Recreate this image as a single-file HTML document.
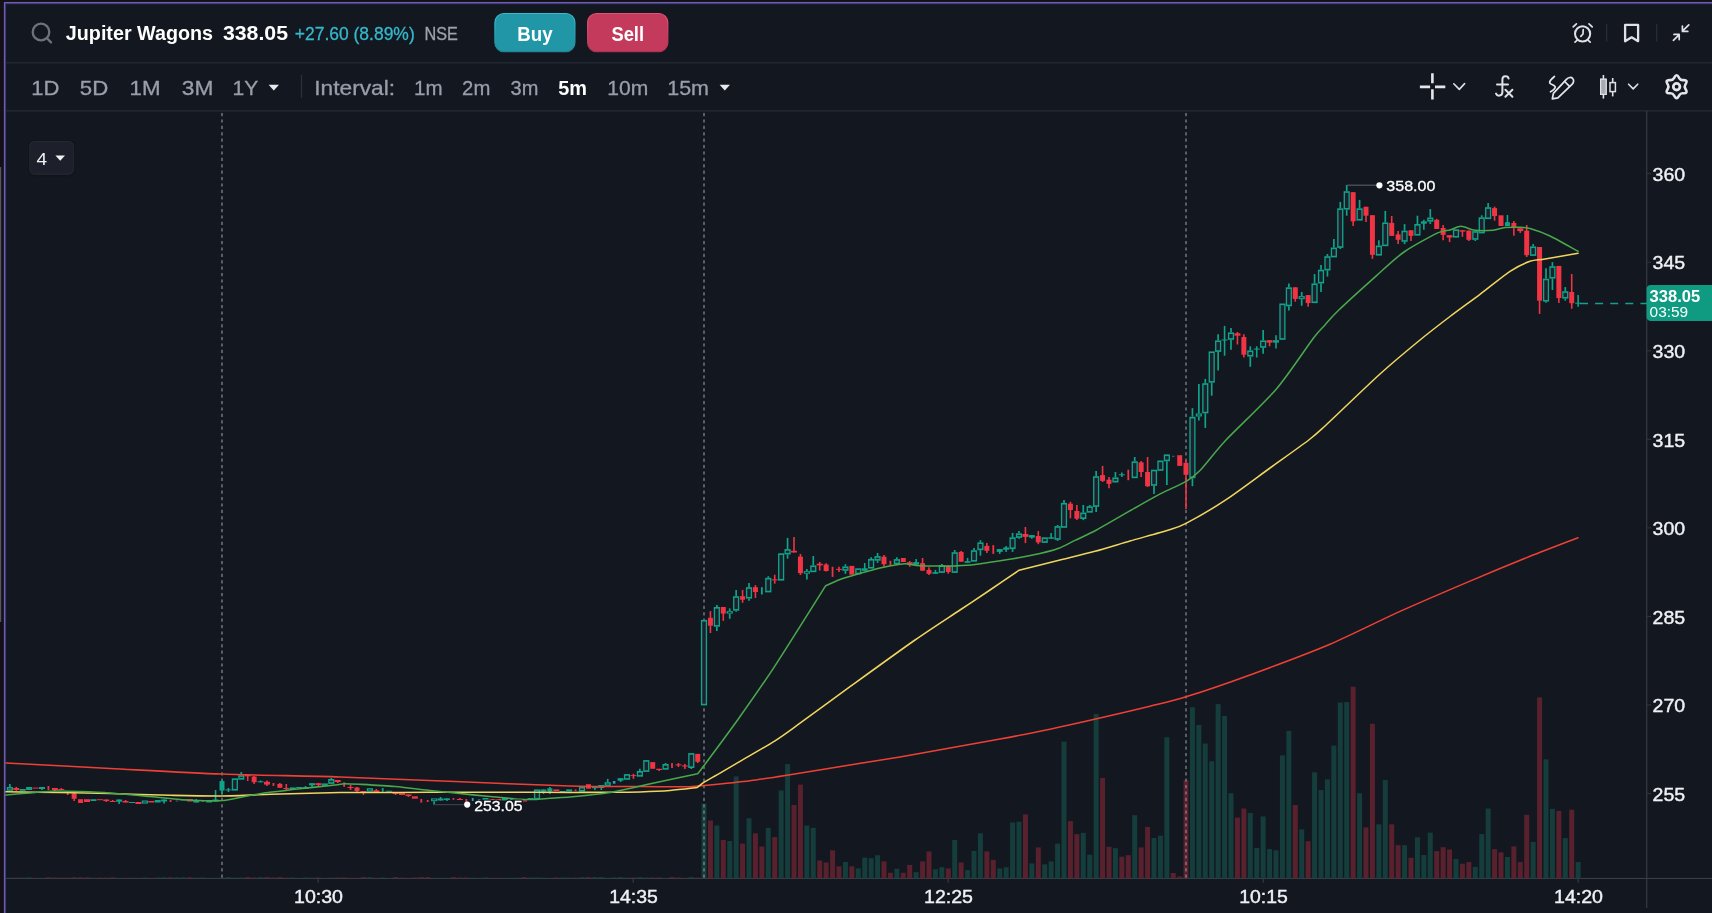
<!DOCTYPE html>
<html><head><meta charset="utf-8"><title>Jupiter Wagons</title>
<style>
html,body{margin:0;padding:0;background:#151014;}
body{width:1712px;height:913px;overflow:hidden;position:relative;font-family:"Liberation Sans",sans-serif;}
svg{position:absolute;left:0;top:0;will-change:transform;}
text{font-family:"Liberation Sans",sans-serif;}
</style></head>
<body>
<svg width="1712" height="913" viewBox="0 0 1712 913">
<!-- frame -->
<rect x="0" y="0" width="1712" height="913" fill="#151014"/>
<rect x="3" y="1.2" width="1709" height="912" fill="#0d0a09"/>
<rect x="0" y="167" width="1.2" height="455" fill="#55565a"/>
<rect x="3.8" y="1.9" width="1708.2" height="911.1" fill="#6a5ebc"/>
<rect x="5.1" y="3.2" width="1706.9" height="909.8" fill="#3a3668"/>
<rect x="6.1" y="4.2" width="1705.9" height="908.8" fill="#131720"/>
<!-- header separators -->
<rect x="6" y="61.9" width="1706" height="1.6" fill="#232730"/>
<rect x="6" y="110" width="1706" height="1.6" fill="#232730"/>

<!-- search icon -->
<circle cx="41" cy="32" r="8.3" fill="none" stroke="#6e727b" stroke-width="2.3"/>
<line x1="47" y1="38.2" x2="51" y2="42.4" stroke="#6e727b" stroke-width="2.3" stroke-linecap="round"/>

<!-- header text -->
<text x="65.8" y="40.3" font-size="19.6" font-weight="700" fill="#ffffff" textLength="147.3" lengthAdjust="spacingAndGlyphs">Jupiter Wagons</text>
<text x="222.9" y="40.3" font-size="19.6" font-weight="700" fill="#ffffff" textLength="65.1" lengthAdjust="spacingAndGlyphs">338.05</text>
<text x="294.8" y="40.4" font-size="18.2" fill="#36b8cc" stroke="#36b8cc" stroke-width="0.3" textLength="119.9" lengthAdjust="spacingAndGlyphs">+27.60 (8.89%)</text>
<text x="424.5" y="40.4" font-size="17.8" fill="#9ea2ac" stroke="#9ea2ac" stroke-width="0.3" textLength="33.4" lengthAdjust="spacingAndGlyphs">NSE</text>

<!-- buttons -->
<defs><linearGradient id="gb" x1="0" y1="0" x2="0" y2="1"><stop offset="0" stop-color="#34bdd2"/><stop offset="0.5" stop-color="#2ba5b8"/><stop offset="1" stop-color="#1f8797"/></linearGradient><linearGradient id="gs" x1="0" y1="0" x2="0" y2="1"><stop offset="0" stop-color="#e35177"/><stop offset="0.5" stop-color="#cf4567"/><stop offset="1" stop-color="#ad3150"/></linearGradient></defs>
<rect x="494.9" y="13.5" width="80" height="38.2" rx="9" fill="#2196a6" stroke="url(#gb)" stroke-width="1.2"/>
<text x="517.2" y="40.6" font-size="20.2" font-weight="700" fill="#ffffff" textLength="35.4" lengthAdjust="spacingAndGlyphs">Buy</text>
<rect x="587.6" y="13.5" width="80.2" height="38.2" rx="9" fill="#c43a5c" stroke="url(#gs)" stroke-width="1.2"/>
<text x="611.4" y="40.6" font-size="20.2" font-weight="700" fill="#ffffff" textLength="32.7" lengthAdjust="spacingAndGlyphs">Sell</text>

<!-- range row -->
<g font-size="20.4" fill="#9a9ea9" stroke="#9a9ea9" stroke-width="0.3">
<text x="31.2" y="95.3" textLength="28.2" lengthAdjust="spacingAndGlyphs">1D</text>
<text x="79.8" y="95.3" textLength="28.4" lengthAdjust="spacingAndGlyphs">5D</text>
<text x="129.6" y="95.3" textLength="31" lengthAdjust="spacingAndGlyphs">1M</text>
<text x="181.8" y="95.3" textLength="31.6" lengthAdjust="spacingAndGlyphs">3M</text>
<text x="232.6" y="95.3" textLength="25.8" lengthAdjust="spacingAndGlyphs">1Y</text>
<text x="314.2" y="95.3" textLength="81" lengthAdjust="spacingAndGlyphs">Interval:</text>
<text x="414" y="95.3" textLength="28.6" lengthAdjust="spacingAndGlyphs">1m</text>
<text x="462.1" y="95.3" textLength="28.2" lengthAdjust="spacingAndGlyphs">2m</text>
<text x="510.5" y="95.3" textLength="27.8" lengthAdjust="spacingAndGlyphs">3m</text>
<text x="558.3" y="95.3" textLength="28.8" lengthAdjust="spacingAndGlyphs" font-weight="700" fill="#ffffff" stroke="none">5m</text>
<text x="607.2" y="95.3" textLength="41" lengthAdjust="spacingAndGlyphs">10m</text>
<text x="667.2" y="95.3" textLength="41.8" lengthAdjust="spacingAndGlyphs">15m</text>
</g>
<path d="M268.6 84.8 L279 84.8 L273.8 90.4 Z" fill="#e8e9ec"/>
<path d="M719.6 84.8 L730 84.8 L724.8 90.4 Z" fill="#e8e9ec"/>
<rect x="300.9" y="75" width="1.2" height="23" fill="#2c303a"/>

<!-- top right icons -->
<g fill="none" stroke="#dfe1e6" stroke-width="1.7" stroke-linecap="round" stroke-linejoin="round">
  <!-- alarm -->
  <circle cx="1582.6" cy="33.8" r="7.6" stroke-width="2"/>
  <path d="M1583.2 29.6 L1583 34 L1580.8 36.4"/>
  <path d="M1573.2 26.8 L1576.4 23.8 M1592.2 26.8 L1589 23.8 M1577 40.4 L1575 42.2 M1588.2 40.4 L1590.2 42.2"/>
  <!-- bookmark -->
  <path d="M1625.1 24.9 L1638.1 24.9 L1638.1 41.2 L1631.6 37.3 L1625.1 41.2 Z" stroke-width="2.3"/>
  <!-- collapse -->
  <path d="M1688.8 24.8 L1682.4 31.2 M1682.4 26 L1682.4 31.4 L1687.8 31.4"/>
  <path d="M1673.4 40.4 L1679.2 34.6 M1679.2 39.6 L1679.2 34.4 L1674 34.4"/>
</g>
<rect x="1606" y="24" width="1.3" height="17.5" fill="#272b35"/>
<rect x="1656" y="24" width="1.3" height="17.5" fill="#272b35"/>

<!-- second row icons -->
<g fill="none" stroke="#e4e6ec" stroke-width="2.6">
  <!-- crosshair -->
  <path d="M1432.4 73.2 V83.3 M1432.4 89.2 V99.5 M1419.9 86.9 H1430.1 M1435 86.9 H1445.3"/>
</g>
<g fill="none" stroke="#dfe1e6" stroke-width="1.6" stroke-linecap="round" stroke-linejoin="round">
  <path d="M1453.8 83.8 L1459.3 89.4 L1464.6 83.6"/>
  <path d="M1628.6 84.2 L1633.2 88.9 L1637.7 84.2"/>
</g>
<!-- fx -->
<g fill="none" stroke="#dfe1e6" stroke-width="2" stroke-linecap="round" stroke-linejoin="round">
  <path d="M1508.6 78.6 C1508 75.6 1502.4 75.2 1502.4 79.6 L1502.4 92 C1502.4 96.4 1497.2 96.6 1496 93.6"/>
  <path d="M1497 84.4 H1508"/>
  <path d="M1505.4 89.8 L1512.4 96.8 M1512.4 89.8 L1505.4 96.8"/>
</g>
<!-- pencil -->
<g fill="none" stroke="#e4e6ec" stroke-width="1.7" stroke-linecap="round" stroke-linejoin="round">
  <path d="M1554.4 76.5 C1551 79.4 1548.4 82 1550.4 83.7 C1552 85 1555.6 85.4 1555.2 87.4 C1554.8 89.2 1552.6 90.6 1550.5 91.8"/>
  <path d="M1552.3 98.8 L1553.4 93.3 L1566.4 79.4 C1568.4 77.2 1571.2 76.9 1572.6 78.4 C1574.2 80 1573.8 82.6 1572 84.4 L1557.9 97.9 Z"/>
  <path d="M1564.7 81.5 L1569.5 86.3"/>
</g>
<!-- candles icon -->
<g>
  <rect x="1602.6" y="75" width="1.6" height="23.6" fill="#dfe1e6"/>
  <rect x="1600" y="78.6" width="6.8" height="16.4" fill="#a9abb2"/>
  <rect x="1600.6" y="79.2" width="5.6" height="15.2" fill="none" stroke="#dfe1e6" stroke-width="1.2"/>
  <rect x="1611.9" y="78" width="1.6" height="18.4" fill="#dfe1e6"/>
  <rect x="1610" y="82.6" width="5.4" height="9" fill="#131720" stroke="#dfe1e6" stroke-width="1.5"/>
</g>
<!-- gear -->
<g fill="none" stroke="#e4e6ec" stroke-width="2.6" stroke-linejoin="round">
  <path d="M1678.8 77.34 Q1676.6 73.3 1674.4 77.34 L1674 78.1 Q1672.85 80.2 1670.45 80.14 L1669.59 80.12 Q1665 80 1667.4 83.92 L1667.85 84.65 Q1669.1 86.7 1667.85 88.75 L1667.4 89.48 Q1665 93.4 1669.59 93.28 L1670.45 93.26 Q1672.85 93.2 1674 95.3 L1674.4 96.06 Q1676.6 100.1 1678.8 96.06 L1679.2 95.3 Q1680.35 93.2 1682.75 93.26 L1683.61 93.28 Q1688.2 93.4 1685.8 89.48 L1685.35 88.75 Q1684.1 86.7 1685.35 84.65 L1685.8 83.92 Q1688.2 80 1683.61 80.12 L1682.75 80.14 Q1680.35 80.2 1679.2 78.1 Z"/>
  <circle cx="1676.6" cy="86.7" r="3.3" stroke-width="2.8"/>
</g>

<!-- "4" dropdown -->
<rect x="28.4" y="140.6" width="46.4" height="35.6" rx="6" fill="#0f1219" opacity="0.6"/>
<rect x="29.8" y="141.6" width="43.6" height="32.6" rx="4.5" fill="#1d202a" stroke="#262a35" stroke-width="1"/>
<text x="36.6" y="165.2" font-size="17" fill="#f0f1f4" textLength="10.6" lengthAdjust="spacingAndGlyphs">4</text>
<path d="M55.4 155.6 L65 155.6 L60.2 160.8 Z" fill="#f0f1f4"/>

<!-- axes -->
<rect x="1646.2" y="111" width="1.1" height="797" fill="#3a3e49"/>
<rect x="6" y="877.9" width="1706" height="1.1" fill="#3a3e49"/>

<!-- chart -->
<g shape-rendering="auto">
<rect x="701.5" y="803.6" width="5" height="74.7" fill="#143d3b"/>
<rect x="707.93" y="820.5" width="5" height="57.8" fill="#59212d"/>
<rect x="714.36" y="825.5" width="5" height="52.8" fill="#143d3b"/>
<rect x="720.79" y="840" width="5" height="38.3" fill="#59212d"/>
<rect x="727.21" y="841" width="5" height="37.3" fill="#143d3b"/>
<rect x="733.64" y="776.4" width="5" height="101.9" fill="#143d3b"/>
<rect x="740.07" y="843.6" width="5" height="34.7" fill="#59212d"/>
<rect x="746.5" y="818.2" width="5" height="60.1" fill="#143d3b"/>
<rect x="752.93" y="833.3" width="5" height="45" fill="#59212d"/>
<rect x="759.36" y="846.5" width="5" height="31.8" fill="#59212d"/>
<rect x="765.79" y="827.8" width="5" height="50.5" fill="#143d3b"/>
<rect x="772.21" y="837.1" width="5" height="41.2" fill="#59212d"/>
<rect x="778.64" y="790.4" width="5" height="87.9" fill="#143d3b"/>
<rect x="785.07" y="764.1" width="5" height="114.2" fill="#143d3b"/>
<rect x="791.5" y="805" width="5" height="73.3" fill="#59212d"/>
<rect x="797.93" y="784.6" width="5" height="93.7" fill="#59212d"/>
<rect x="804.36" y="825.5" width="5" height="52.8" fill="#143d3b"/>
<rect x="810.79" y="827.8" width="5" height="50.5" fill="#143d3b"/>
<rect x="817.21" y="860.5" width="5" height="17.8" fill="#59212d"/>
<rect x="823.64" y="862.5" width="5" height="15.8" fill="#59212d"/>
<rect x="830.07" y="850.3" width="5" height="28" fill="#59212d"/>
<rect x="836.5" y="866.3" width="5" height="12" fill="#59212d"/>
<rect x="842.93" y="862" width="5" height="16.3" fill="#143d3b"/>
<rect x="849.36" y="866.3" width="5" height="12" fill="#59212d"/>
<rect x="855.79" y="868.4" width="5" height="9.9" fill="#143d3b"/>
<rect x="862.21" y="857.6" width="5" height="20.7" fill="#143d3b"/>
<rect x="868.64" y="858.2" width="5" height="20.1" fill="#143d3b"/>
<rect x="875.07" y="855.2" width="5" height="23.1" fill="#143d3b"/>
<rect x="881.5" y="861.4" width="5" height="16.9" fill="#59212d"/>
<rect x="887.93" y="872.8" width="5" height="5.5" fill="#59212d"/>
<rect x="894.36" y="868.7" width="5" height="9.6" fill="#143d3b"/>
<rect x="900.79" y="872.8" width="5" height="5.5" fill="#59212d"/>
<rect x="907.21" y="864.9" width="5" height="13.4" fill="#59212d"/>
<rect x="913.64" y="872.2" width="5" height="6.1" fill="#143d3b"/>
<rect x="920.07" y="861.4" width="5" height="16.9" fill="#59212d"/>
<rect x="926.5" y="851.4" width="5" height="26.9" fill="#59212d"/>
<rect x="932.93" y="869.3" width="5" height="9" fill="#143d3b"/>
<rect x="939.36" y="867.2" width="5" height="11.1" fill="#143d3b"/>
<rect x="945.79" y="868.4" width="5" height="9.9" fill="#59212d"/>
<rect x="952.21" y="840" width="5" height="38.3" fill="#143d3b"/>
<rect x="958.64" y="862.5" width="5" height="15.8" fill="#59212d"/>
<rect x="965.07" y="870.1" width="5" height="8.2" fill="#143d3b"/>
<rect x="971.5" y="850.9" width="5" height="27.4" fill="#143d3b"/>
<rect x="977.93" y="833.3" width="5" height="45" fill="#143d3b"/>
<rect x="984.36" y="851.4" width="5" height="26.9" fill="#59212d"/>
<rect x="990.79" y="859.9" width="5" height="18.4" fill="#59212d"/>
<rect x="997.21" y="868.4" width="5" height="9.9" fill="#143d3b"/>
<rect x="1003.64" y="867.2" width="5" height="11.1" fill="#143d3b"/>
<rect x="1010.07" y="822.5" width="5" height="55.8" fill="#143d3b"/>
<rect x="1016.5" y="821.7" width="5" height="56.6" fill="#143d3b"/>
<rect x="1022.93" y="814.4" width="5" height="63.9" fill="#59212d"/>
<rect x="1029.36" y="863.4" width="5" height="14.9" fill="#143d3b"/>
<rect x="1035.79" y="847.4" width="5" height="30.9" fill="#59212d"/>
<rect x="1042.21" y="864.3" width="5" height="14" fill="#143d3b"/>
<rect x="1048.64" y="861.4" width="5" height="16.9" fill="#143d3b"/>
<rect x="1055.07" y="843.6" width="5" height="34.7" fill="#143d3b"/>
<rect x="1061.5" y="741.6" width="5" height="136.7" fill="#143d3b"/>
<rect x="1067.93" y="821.1" width="5" height="57.2" fill="#59212d"/>
<rect x="1074.36" y="834.2" width="5" height="44.1" fill="#59212d"/>
<rect x="1080.79" y="832.8" width="5" height="45.5" fill="#143d3b"/>
<rect x="1087.21" y="854.7" width="5" height="23.6" fill="#143d3b"/>
<rect x="1093.64" y="713.9" width="5" height="164.4" fill="#143d3b"/>
<rect x="1100.07" y="777.9" width="5" height="100.4" fill="#59212d"/>
<rect x="1106.5" y="846.8" width="5" height="31.5" fill="#59212d"/>
<rect x="1112.93" y="848.2" width="5" height="30.1" fill="#143d3b"/>
<rect x="1119.36" y="856.7" width="5" height="21.6" fill="#59212d"/>
<rect x="1125.79" y="855.2" width="5" height="23.1" fill="#59212d"/>
<rect x="1132.21" y="815.2" width="5" height="63.1" fill="#143d3b"/>
<rect x="1138.64" y="847.4" width="5" height="30.9" fill="#59212d"/>
<rect x="1145.07" y="826.9" width="5" height="51.4" fill="#59212d"/>
<rect x="1151.5" y="838" width="5" height="40.3" fill="#143d3b"/>
<rect x="1157.93" y="835.7" width="5" height="42.6" fill="#143d3b"/>
<rect x="1164.36" y="737.3" width="5" height="141" fill="#143d3b"/>
<rect x="1170.79" y="873" width="5" height="5.3" fill="#59212d"/>
<rect x="1177.21" y="876.5" width="5" height="1.8" fill="#59212d"/>
<rect x="1183.5" y="780.1" width="5" height="98.2" fill="#59212d"/>
<rect x="1189.93" y="707.2" width="5" height="171.1" fill="#143d3b"/>
<rect x="1196.36" y="725" width="5" height="153.3" fill="#143d3b"/>
<rect x="1202.79" y="743.5" width="5" height="134.8" fill="#143d3b"/>
<rect x="1209.21" y="761.2" width="5" height="117.1" fill="#143d3b"/>
<rect x="1215.64" y="704.1" width="5" height="174.2" fill="#143d3b"/>
<rect x="1222.07" y="715.9" width="5" height="162.4" fill="#143d3b"/>
<rect x="1228.5" y="793.2" width="5" height="85.1" fill="#143d3b"/>
<rect x="1234.93" y="817.6" width="5" height="60.7" fill="#59212d"/>
<rect x="1241.36" y="808.5" width="5" height="69.8" fill="#59212d"/>
<rect x="1247.79" y="812.9" width="5" height="65.4" fill="#143d3b"/>
<rect x="1254.21" y="848" width="5" height="30.3" fill="#143d3b"/>
<rect x="1260.64" y="816.4" width="5" height="61.9" fill="#143d3b"/>
<rect x="1267.07" y="849.1" width="5" height="29.2" fill="#143d3b"/>
<rect x="1273.5" y="850.3" width="5" height="28" fill="#143d3b"/>
<rect x="1279.93" y="755.3" width="5" height="123" fill="#143d3b"/>
<rect x="1286.36" y="730.9" width="5" height="147.4" fill="#143d3b"/>
<rect x="1292.79" y="805" width="5" height="73.3" fill="#59212d"/>
<rect x="1299.21" y="829.4" width="5" height="48.9" fill="#143d3b"/>
<rect x="1305.64" y="841.2" width="5" height="37.1" fill="#59212d"/>
<rect x="1312.07" y="772.3" width="5" height="106" fill="#143d3b"/>
<rect x="1318.5" y="790" width="5" height="88.3" fill="#143d3b"/>
<rect x="1324.93" y="779.4" width="5" height="98.9" fill="#143d3b"/>
<rect x="1331.36" y="745.5" width="5" height="132.8" fill="#143d3b"/>
<rect x="1337.79" y="702.5" width="5" height="175.8" fill="#143d3b"/>
<rect x="1344.21" y="702.1" width="5" height="176.2" fill="#143d3b"/>
<rect x="1350.64" y="686.7" width="5" height="191.6" fill="#59212d"/>
<rect x="1357.07" y="793.2" width="5" height="85.1" fill="#143d3b"/>
<rect x="1363.5" y="827.4" width="5" height="50.9" fill="#59212d"/>
<rect x="1369.93" y="723.8" width="5" height="154.5" fill="#59212d"/>
<rect x="1376.36" y="824.3" width="5" height="54" fill="#143d3b"/>
<rect x="1382.79" y="780.1" width="5" height="98.2" fill="#143d3b"/>
<rect x="1389.21" y="824.3" width="5" height="54" fill="#59212d"/>
<rect x="1395.64" y="845.2" width="5" height="33.1" fill="#59212d"/>
<rect x="1402.07" y="845.2" width="5" height="33.1" fill="#143d3b"/>
<rect x="1408.5" y="857.8" width="5" height="20.5" fill="#59212d"/>
<rect x="1414.93" y="837.3" width="5" height="41" fill="#143d3b"/>
<rect x="1421.36" y="855" width="5" height="23.3" fill="#143d3b"/>
<rect x="1427.79" y="832.6" width="5" height="45.7" fill="#143d3b"/>
<rect x="1434.21" y="851.1" width="5" height="27.2" fill="#59212d"/>
<rect x="1440.64" y="847.2" width="5" height="31.1" fill="#59212d"/>
<rect x="1447.07" y="849.5" width="5" height="28.8" fill="#59212d"/>
<rect x="1453.5" y="859" width="5" height="19.3" fill="#143d3b"/>
<rect x="1459.93" y="863.7" width="5" height="14.6" fill="#59212d"/>
<rect x="1466.36" y="862.1" width="5" height="16.2" fill="#59212d"/>
<rect x="1472.79" y="866.9" width="5" height="11.4" fill="#143d3b"/>
<rect x="1479.21" y="834.1" width="5" height="44.2" fill="#143d3b"/>
<rect x="1485.64" y="808.5" width="5" height="69.8" fill="#143d3b"/>
<rect x="1492.07" y="849.1" width="5" height="29.2" fill="#59212d"/>
<rect x="1498.5" y="852.3" width="5" height="26" fill="#59212d"/>
<rect x="1504.93" y="857" width="5" height="21.3" fill="#143d3b"/>
<rect x="1511.36" y="846.4" width="5" height="31.9" fill="#59212d"/>
<rect x="1517.79" y="862.1" width="5" height="16.2" fill="#59212d"/>
<rect x="1524.21" y="814.8" width="5" height="63.5" fill="#59212d"/>
<rect x="1530.64" y="842" width="5" height="36.3" fill="#143d3b"/>
<rect x="1537.07" y="697.4" width="5" height="180.9" fill="#59212d"/>
<rect x="1543.5" y="759.3" width="5" height="119" fill="#143d3b"/>
<rect x="1549.93" y="808.9" width="5" height="69.4" fill="#143d3b"/>
<rect x="1556.36" y="810.9" width="5" height="67.4" fill="#59212d"/>
<rect x="1562.79" y="838.1" width="5" height="40.2" fill="#143d3b"/>
<rect x="1569.21" y="809.7" width="5" height="68.6" fill="#59212d"/>
<rect x="1575.64" y="862.1" width="5" height="16.2" fill="#143d3b"/>
<rect x="7.36" y="877.7" width="5" height="0.6" fill="#143d3b"/>
<rect x="13.79" y="877.7" width="5" height="0.6" fill="#59212d"/>
<rect x="20.21" y="877.5" width="5" height="0.8" fill="#143d3b"/>
<rect x="26.64" y="877.3" width="5" height="1" fill="#143d3b"/>
<rect x="33.07" y="877.9" width="5" height="0.4" fill="#59212d"/>
<rect x="39.5" y="877.9" width="5" height="0.4" fill="#143d3b"/>
<rect x="45.93" y="877.3" width="5" height="1" fill="#59212d"/>
<rect x="52.36" y="877.5" width="5" height="0.8" fill="#59212d"/>
<rect x="58.79" y="877.7" width="5" height="0.6" fill="#59212d"/>
<rect x="65.21" y="877.7" width="5" height="0.6" fill="#59212d"/>
<rect x="71.64" y="877.3" width="5" height="1" fill="#59212d"/>
<rect x="78.07" y="877.3" width="5" height="1" fill="#59212d"/>
<rect x="84.5" y="877.3" width="5" height="1" fill="#59212d"/>
<rect x="90.93" y="877.7" width="5" height="0.6" fill="#143d3b"/>
<rect x="97.36" y="877.7" width="5" height="0.6" fill="#59212d"/>
<rect x="103.79" y="877.7" width="5" height="0.6" fill="#59212d"/>
<rect x="110.21" y="877.3" width="5" height="1" fill="#59212d"/>
<rect x="116.64" y="877.9" width="5" height="0.4" fill="#143d3b"/>
<rect x="123.07" y="877.9" width="5" height="0.4" fill="#59212d"/>
<rect x="129.5" y="877.7" width="5" height="0.6" fill="#143d3b"/>
<rect x="135.93" y="877.9" width="5" height="0.4" fill="#59212d"/>
<rect x="142.36" y="877.5" width="5" height="0.8" fill="#143d3b"/>
<rect x="148.79" y="877.9" width="5" height="0.4" fill="#59212d"/>
<rect x="155.21" y="877.5" width="5" height="0.8" fill="#143d3b"/>
<rect x="161.64" y="877.3" width="5" height="1" fill="#143d3b"/>
<rect x="168.07" y="877.3" width="5" height="1" fill="#59212d"/>
<rect x="174.5" y="877.3" width="5" height="1" fill="#143d3b"/>
<rect x="180.93" y="877.3" width="5" height="1" fill="#143d3b"/>
<rect x="187.36" y="877.3" width="5" height="1" fill="#59212d"/>
<rect x="193.79" y="877.7" width="5" height="0.6" fill="#143d3b"/>
<rect x="200.21" y="877.5" width="5" height="0.8" fill="#143d3b"/>
<rect x="206.64" y="877.9" width="5" height="0.4" fill="#143d3b"/>
<rect x="213.07" y="877.9" width="5" height="0.4" fill="#143d3b"/>
<rect x="219.5" y="877.7" width="5" height="0.6" fill="#143d3b"/>
<rect x="225.93" y="877.1" width="5" height="1.2" fill="#143d3b"/>
<rect x="232.36" y="877.7" width="5" height="0.6" fill="#143d3b"/>
<rect x="238.79" y="877.5" width="5" height="0.8" fill="#143d3b"/>
<rect x="245.21" y="877.1" width="5" height="1.2" fill="#59212d"/>
<rect x="251.64" y="877.5" width="5" height="0.8" fill="#59212d"/>
<rect x="258.07" y="877.1" width="5" height="1.2" fill="#143d3b"/>
<rect x="264.5" y="877.1" width="5" height="1.2" fill="#59212d"/>
<rect x="270.93" y="877.5" width="5" height="0.8" fill="#59212d"/>
<rect x="277.36" y="877.1" width="5" height="1.2" fill="#59212d"/>
<rect x="283.79" y="877.7" width="5" height="0.6" fill="#59212d"/>
<rect x="290.21" y="877.5" width="5" height="0.8" fill="#143d3b"/>
<rect x="296.64" y="877.9" width="5" height="0.4" fill="#143d3b"/>
<rect x="303.07" y="877.5" width="5" height="0.8" fill="#143d3b"/>
<rect x="309.5" y="877.7" width="5" height="0.6" fill="#143d3b"/>
<rect x="315.93" y="877.5" width="5" height="0.8" fill="#59212d"/>
<rect x="322.36" y="877.9" width="5" height="0.4" fill="#143d3b"/>
<rect x="328.79" y="877.7" width="5" height="0.6" fill="#143d3b"/>
<rect x="335.21" y="877.5" width="5" height="0.8" fill="#59212d"/>
<rect x="341.64" y="877.5" width="5" height="0.8" fill="#59212d"/>
<rect x="348.07" y="877.9" width="5" height="0.4" fill="#59212d"/>
<rect x="354.5" y="877.9" width="5" height="0.4" fill="#59212d"/>
<rect x="360.93" y="877.1" width="5" height="1.2" fill="#59212d"/>
<rect x="367.36" y="877.1" width="5" height="1.2" fill="#143d3b"/>
<rect x="373.79" y="877.9" width="5" height="0.4" fill="#59212d"/>
<rect x="380.21" y="877.5" width="5" height="0.8" fill="#143d3b"/>
<rect x="386.64" y="877.9" width="5" height="0.4" fill="#143d3b"/>
<rect x="393.07" y="877.1" width="5" height="1.2" fill="#59212d"/>
<rect x="399.5" y="877.7" width="5" height="0.6" fill="#59212d"/>
<rect x="405.93" y="877.9" width="5" height="0.4" fill="#59212d"/>
<rect x="412.36" y="877.5" width="5" height="0.8" fill="#59212d"/>
<rect x="418.79" y="877.1" width="5" height="1.2" fill="#59212d"/>
<rect x="425.21" y="877.1" width="5" height="1.2" fill="#59212d"/>
<rect x="431.64" y="877.9" width="5" height="0.4" fill="#143d3b"/>
<rect x="438.07" y="877.9" width="5" height="0.4" fill="#143d3b"/>
<rect x="444.5" y="877.9" width="5" height="0.4" fill="#143d3b"/>
<rect x="450.93" y="877.1" width="5" height="1.2" fill="#59212d"/>
<rect x="457.36" y="877.5" width="5" height="0.8" fill="#59212d"/>
<rect x="463.79" y="877.5" width="5" height="0.8" fill="#59212d"/>
<rect x="470.21" y="877.7" width="5" height="0.6" fill="#143d3b"/>
<rect x="476.64" y="877.9" width="5" height="0.4" fill="#143d3b"/>
<rect x="483.07" y="877.5" width="5" height="0.8" fill="#143d3b"/>
<rect x="489.5" y="877.9" width="5" height="0.4" fill="#59212d"/>
<rect x="495.93" y="877.9" width="5" height="0.4" fill="#59212d"/>
<rect x="502.36" y="877.9" width="5" height="0.4" fill="#143d3b"/>
<rect x="508.79" y="877.9" width="5" height="0.4" fill="#143d3b"/>
<rect x="515.21" y="877.7" width="5" height="0.6" fill="#143d3b"/>
<rect x="521.64" y="877.1" width="5" height="1.2" fill="#59212d"/>
<rect x="528.07" y="877.5" width="5" height="0.8" fill="#143d3b"/>
<rect x="534.5" y="877.5" width="5" height="0.8" fill="#143d3b"/>
<rect x="540.93" y="877.7" width="5" height="0.6" fill="#143d3b"/>
<rect x="547.36" y="877.9" width="5" height="0.4" fill="#143d3b"/>
<rect x="553.79" y="877.5" width="5" height="0.8" fill="#59212d"/>
<rect x="560.21" y="877.5" width="5" height="0.8" fill="#143d3b"/>
<rect x="566.64" y="877.5" width="5" height="0.8" fill="#143d3b"/>
<rect x="573.07" y="877.7" width="5" height="0.6" fill="#59212d"/>
<rect x="579.5" y="877.1" width="5" height="1.2" fill="#143d3b"/>
<rect x="585.93" y="877.1" width="5" height="1.2" fill="#59212d"/>
<rect x="592.36" y="877.1" width="5" height="1.2" fill="#143d3b"/>
<rect x="598.79" y="877.1" width="5" height="1.2" fill="#143d3b"/>
<rect x="605.21" y="877.9" width="5" height="0.4" fill="#143d3b"/>
<rect x="611.64" y="877.5" width="5" height="0.8" fill="#143d3b"/>
<rect x="618.07" y="877.1" width="5" height="1.2" fill="#143d3b"/>
<rect x="624.5" y="877.7" width="5" height="0.6" fill="#143d3b"/>
<rect x="630.93" y="877.5" width="5" height="0.8" fill="#59212d"/>
<rect x="637.36" y="877.1" width="5" height="1.2" fill="#143d3b"/>
<rect x="643.79" y="877.5" width="5" height="0.8" fill="#143d3b"/>
<rect x="650.21" y="877.5" width="5" height="0.8" fill="#59212d"/>
<rect x="656.64" y="877.5" width="5" height="0.8" fill="#59212d"/>
<rect x="663.07" y="877.9" width="5" height="0.4" fill="#143d3b"/>
<rect x="669.5" y="877.1" width="5" height="1.2" fill="#59212d"/>
<rect x="675.93" y="877.5" width="5" height="0.8" fill="#59212d"/>
<rect x="682.36" y="877.9" width="5" height="0.4" fill="#59212d"/>
<rect x="688.79" y="877.1" width="5" height="1.2" fill="#143d3b"/>
<rect x="695.21" y="877.7" width="5" height="0.6" fill="#59212d"/>
</g>
<line x1="222" y1="113" x2="222" y2="878" stroke="#8a8d96" stroke-width="1.2" stroke-dasharray="3.2 3.2"/>
<line x1="704" y1="113" x2="704" y2="878" stroke="#8a8d96" stroke-width="1.2" stroke-dasharray="3.2 3.2"/>
<line x1="1186" y1="113" x2="1186" y2="878" stroke="#8a8d96" stroke-width="1.2" stroke-dasharray="3.2 3.2"/>
<g>
<line x1="9.86" y1="784.1" x2="9.86" y2="787" stroke="#10a389" stroke-width="1.7"/>
<rect x="6.76" y="787" width="6.2" height="3.8" fill="#10a389"/>
<rect x="8.11" y="788.45" width="3.5" height="0.9" fill="#1e202e"/>
<line x1="16.29" y1="786.9" x2="16.29" y2="790.8" stroke="#f03444" stroke-width="1.6"/>
<rect x="13.29" y="788" width="6" height="2" fill="#f03444"/>
<rect x="19.71" y="789" width="6" height="1.8" fill="#10a389"/>
<rect x="26.14" y="787" width="6" height="3" fill="#10a389"/>
<rect x="32.57" y="787.6" width="6" height="1" fill="#f03444"/>
<line x1="42" y1="787" x2="42" y2="790" stroke="#10a389" stroke-width="1.6"/>
<rect x="39" y="787" width="6" height="2" fill="#10a389"/>
<rect x="47.53" y="786" width="1.8" height="4" fill="#f03444"/>
<line x1="54.86" y1="788" x2="54.86" y2="791" stroke="#f03444" stroke-width="1.6"/>
<rect x="51.86" y="788" width="6" height="2" fill="#f03444"/>
<line x1="61.29" y1="788" x2="61.29" y2="790" stroke="#f03444" stroke-width="1.6"/>
<rect x="58.29" y="789" width="6" height="1" fill="#f03444"/>
<rect x="66.81" y="791.8" width="1.8" height="3.2" fill="#f03444"/>
<line x1="74.14" y1="791.8" x2="74.14" y2="801" stroke="#f03444" stroke-width="1.6"/>
<rect x="71.64" y="793.4" width="5" height="5.4" fill="#f03444"/>
<rect x="78.07" y="799.2" width="5" height="3.8" fill="#f03444"/>
<rect x="84" y="799.2" width="6" height="2.8" fill="#f03444"/>
<rect x="90.43" y="799.2" width="6" height="1.8" fill="#10a389"/>
<rect x="96.86" y="799.2" width="6" height="1" fill="#f03444"/>
<line x1="106.29" y1="799.5" x2="106.29" y2="802" stroke="#f03444" stroke-width="1.6"/>
<rect x="103.29" y="799.5" width="6" height="1.5" fill="#f03444"/>
<line x1="112.71" y1="800" x2="112.71" y2="802" stroke="#f03444" stroke-width="1.6"/>
<rect x="109.71" y="801" width="6" height="1" fill="#f03444"/>
<line x1="119.14" y1="799.5" x2="119.14" y2="804" stroke="#10a389" stroke-width="1.6"/>
<rect x="116.14" y="799.5" width="6" height="2.2" fill="#10a389"/>
<line x1="125.57" y1="800" x2="125.57" y2="802.5" stroke="#f03444" stroke-width="1.6"/>
<rect x="122.57" y="801" width="6" height="1.5" fill="#f03444"/>
<rect x="129" y="802" width="6" height="1" fill="#10a389"/>
<rect x="135.43" y="802" width="6" height="2" fill="#f03444"/>
<rect x="141.76" y="800.5" width="6.2" height="3.1" fill="#10a389"/>
<rect x="143.11" y="801.6" width="3.5" height="0.9" fill="#1e202e"/>
<rect x="148.29" y="801" width="6" height="1.5" fill="#f03444"/>
<rect x="154.71" y="800" width="6" height="2.5" fill="#10a389"/>
<line x1="164.14" y1="799.5" x2="164.14" y2="803.5" stroke="#10a389" stroke-width="1.6"/>
<rect x="161.14" y="799.5" width="6" height="2" fill="#10a389"/>
<rect x="169.67" y="800" width="1.8" height="2" fill="#f03444"/>
<rect x="175.7" y="800.5" width="2.6" height="1" fill="#555a66"/>
<rect x="180.43" y="799.5" width="6" height="1" fill="#10a389"/>
<rect x="186.86" y="799" width="6" height="2.5" fill="#f03444"/>
<line x1="196.29" y1="799" x2="196.29" y2="802.5" stroke="#10a389" stroke-width="1.6"/>
<rect x="193.29" y="800" width="6" height="2.5" fill="#10a389"/>
<rect x="201.41" y="800" width="2.6" height="2" fill="#555a66"/>
<rect x="206.14" y="800" width="6" height="2.5" fill="#10a389"/>
<line x1="215.57" y1="790" x2="215.57" y2="801.5" stroke="#10a389" stroke-width="1.6"/>
<rect x="212.57" y="799.5" width="6" height="2" fill="#10a389"/>
<line x1="222" y1="780" x2="222" y2="794.4" stroke="#10a389" stroke-width="1.6"/>
<rect x="219.5" y="781.1" width="5" height="9.5" fill="#10a389"/>
<line x1="228.43" y1="788" x2="228.43" y2="792" stroke="#10a389" stroke-width="1.6"/>
<rect x="225.43" y="789.4" width="6" height="1" fill="#10a389"/>
<rect x="231.76" y="778.3" width="6.2" height="12.3" fill="#10a389"/>
<rect x="233.11" y="779.95" width="3.5" height="9" fill="#1e202e"/>
<line x1="241.29" y1="772" x2="241.29" y2="775.2" stroke="#10a389" stroke-width="1.7"/>
<rect x="238.19" y="775.2" width="6.2" height="4.5" fill="#10a389"/>
<rect x="239.54" y="776.85" width="3.5" height="1.2" fill="#1e202e"/>
<line x1="247.71" y1="775" x2="247.71" y2="781" stroke="#f03444" stroke-width="1.6"/>
<rect x="244.71" y="775" width="6" height="1.3" fill="#f03444"/>
<line x1="254.14" y1="775.9" x2="254.14" y2="783.9" stroke="#f03444" stroke-width="1.6"/>
<rect x="251.64" y="776.6" width="5" height="5.6" fill="#f03444"/>
<line x1="260.57" y1="780.5" x2="260.57" y2="782.3" stroke="#10a389" stroke-width="1.6"/>
<rect x="257.57" y="781.3" width="6" height="1" fill="#10a389"/>
<line x1="267" y1="780.5" x2="267" y2="786" stroke="#f03444" stroke-width="1.6"/>
<rect x="264" y="781.8" width="6" height="2.8" fill="#f03444"/>
<rect x="272.53" y="783" width="1.8" height="2.9" fill="#f03444"/>
<line x1="279.86" y1="783" x2="279.86" y2="787.8" stroke="#f03444" stroke-width="1.6"/>
<rect x="277.36" y="783.9" width="5" height="3.9" fill="#f03444"/>
<line x1="286.29" y1="784" x2="286.29" y2="789.9" stroke="#f03444" stroke-width="1.6"/>
<rect x="283.29" y="788" width="6" height="1" fill="#f03444"/>
<rect x="289.71" y="787.4" width="6" height="2.1" fill="#10a389"/>
<rect x="296.14" y="787" width="6" height="1" fill="#10a389"/>
<line x1="305.57" y1="786" x2="305.57" y2="789" stroke="#10a389" stroke-width="1.6"/>
<rect x="302.57" y="787" width="6" height="2" fill="#10a389"/>
<line x1="312" y1="783.2" x2="312" y2="787" stroke="#10a389" stroke-width="1.6"/>
<rect x="309" y="783.2" width="6" height="2.1" fill="#10a389"/>
<line x1="318.43" y1="783.2" x2="318.43" y2="787" stroke="#f03444" stroke-width="1.6"/>
<rect x="315.43" y="783.2" width="6" height="1.8" fill="#f03444"/>
<rect x="321.86" y="783.4" width="6" height="2.3" fill="#10a389"/>
<line x1="331.29" y1="778" x2="331.29" y2="779" stroke="#10a389" stroke-width="1.7"/>
<rect x="328.19" y="779" width="6.2" height="4.9" fill="#10a389"/>
<rect x="329.54" y="780.65" width="3.5" height="1.6" fill="#1e202e"/>
<line x1="337.71" y1="780" x2="337.71" y2="783" stroke="#f03444" stroke-width="1.6"/>
<rect x="334.71" y="780" width="6" height="2" fill="#f03444"/>
<rect x="343.24" y="782.3" width="1.8" height="4.5" fill="#f03444"/>
<line x1="350.57" y1="785" x2="350.57" y2="790" stroke="#f03444" stroke-width="1.6"/>
<rect x="347.57" y="787" width="6" height="1" fill="#f03444"/>
<line x1="357" y1="787" x2="357" y2="792" stroke="#f03444" stroke-width="1.6"/>
<rect x="354.5" y="787.5" width="5" height="3.5" fill="#f03444"/>
<line x1="363.43" y1="791" x2="363.43" y2="794.9" stroke="#f03444" stroke-width="1.6"/>
<rect x="360.43" y="791" width="6" height="1.2" fill="#f03444"/>
<rect x="366.76" y="788.2" width="6.2" height="3.5" fill="#10a389"/>
<rect x="368.11" y="789.5" width="3.5" height="0.9" fill="#1e202e"/>
<line x1="376.29" y1="789" x2="376.29" y2="792" stroke="#f03444" stroke-width="1.6"/>
<rect x="373.29" y="790.3" width="6" height="1.7" fill="#f03444"/>
<rect x="381.81" y="788" width="1.8" height="3.7" fill="#10a389"/>
<rect x="386.14" y="790.7" width="6" height="1" fill="#10a389"/>
<line x1="395.57" y1="793" x2="395.57" y2="795" stroke="#f03444" stroke-width="1.6"/>
<rect x="392.57" y="793" width="6" height="1" fill="#f03444"/>
<rect x="399" y="793.1" width="6" height="1.9" fill="#f03444"/>
<line x1="408.43" y1="794.5" x2="408.43" y2="797" stroke="#f03444" stroke-width="1.6"/>
<rect x="405.43" y="794.5" width="6" height="1.5" fill="#f03444"/>
<rect x="411.86" y="796.3" width="6" height="2.4" fill="#f03444"/>
<rect x="420.39" y="799" width="1.8" height="3.6" fill="#f03444"/>
<rect x="426.81" y="800" width="1.8" height="2" fill="#f03444"/>
<line x1="434.14" y1="801.2" x2="434.14" y2="804.7" stroke="#10a389" stroke-width="1.7"/>
<rect x="431.04" y="798.4" width="6.2" height="2.8" fill="#10a389"/>
<rect x="432.39" y="799.35" width="3.5" height="0.9" fill="#1e202e"/>
<line x1="440.57" y1="797" x2="440.57" y2="800.5" stroke="#10a389" stroke-width="1.6"/>
<rect x="437.57" y="798.4" width="6" height="2.1" fill="#10a389"/>
<line x1="447" y1="798.4" x2="447" y2="801" stroke="#10a389" stroke-width="1.6"/>
<rect x="444" y="798.4" width="6" height="1.6" fill="#10a389"/>
<rect x="452.53" y="798" width="1.8" height="1.8" fill="#f03444"/>
<line x1="459.86" y1="798" x2="459.86" y2="800" stroke="#f03444" stroke-width="1.6"/>
<rect x="456.86" y="799" width="6" height="1" fill="#f03444"/>
<rect x="465.39" y="799" width="1.8" height="3" fill="#f03444"/>
<rect x="471.81" y="798" width="1.8" height="3" fill="#2a9fc0"/>
<rect x="477.84" y="799" width="2.6" height="1" fill="#2a9fc0"/>
<rect x="482.57" y="798" width="6" height="2" fill="#10a389"/>
<rect x="489" y="799" width="6" height="1" fill="#f03444"/>
<rect x="495.43" y="799" width="6" height="1.5" fill="#f03444"/>
<rect x="501.86" y="798" width="6" height="2.5" fill="#10a389"/>
<rect x="509.99" y="799" width="2.6" height="1" fill="#2a9fc0"/>
<rect x="514.71" y="799" width="6" height="1" fill="#10a389"/>
<rect x="521.14" y="800.3" width="6" height="1.2" fill="#f03444"/>
<rect x="527.57" y="798" width="6" height="1" fill="#10a389"/>
<rect x="533.9" y="789.4" width="6.2" height="10.1" fill="#10a389"/>
<rect x="535.25" y="791.05" width="3.5" height="6.8" fill="#1e202e"/>
<line x1="543.43" y1="789.5" x2="543.43" y2="794" stroke="#10a389" stroke-width="1.6"/>
<rect x="540.43" y="789.5" width="6" height="2" fill="#10a389"/>
<line x1="549.86" y1="787" x2="549.86" y2="794" stroke="#10a389" stroke-width="1.6"/>
<rect x="547.36" y="788.3" width="5" height="3.2" fill="#10a389"/>
<rect x="553.29" y="789.4" width="6" height="1.6" fill="#f03444"/>
<rect x="559.71" y="791" width="6" height="1" fill="#10a389"/>
<rect x="566.14" y="789.4" width="6" height="2.2" fill="#10a389"/>
<rect x="574.67" y="789.5" width="1.8" height="1.5" fill="#f03444"/>
<rect x="578.9" y="786.8" width="6.2" height="4.8" fill="#10a389"/>
<rect x="580.25" y="788.45" width="3.5" height="1.5" fill="#1e202e"/>
<rect x="585.93" y="784.2" width="5" height="4.5" fill="#f03444"/>
<line x1="594.86" y1="787" x2="594.86" y2="790" stroke="#10a389" stroke-width="1.6"/>
<rect x="591.86" y="787" width="6" height="1.2" fill="#10a389"/>
<line x1="601.29" y1="785" x2="601.29" y2="790" stroke="#10a389" stroke-width="1.6"/>
<rect x="598.29" y="785" width="6" height="3" fill="#10a389"/>
<line x1="607.71" y1="778.9" x2="607.71" y2="782.2" stroke="#10a389" stroke-width="1.7"/>
<rect x="604.61" y="782.2" width="6.2" height="3.7" fill="#10a389"/>
<rect x="605.96" y="783.6" width="3.5" height="0.9" fill="#1e202e"/>
<rect x="612.84" y="781" width="2.6" height="2.7" fill="#2a9fc0"/>
<line x1="620.57" y1="778.2" x2="620.57" y2="782" stroke="#10a389" stroke-width="1.6"/>
<rect x="617.57" y="778.2" width="6" height="2.5" fill="#10a389"/>
<rect x="623.9" y="774.1" width="6.2" height="5.7" fill="#10a389"/>
<rect x="625.25" y="775.75" width="3.5" height="2.4" fill="#1e202e"/>
<line x1="633.43" y1="773.7" x2="633.43" y2="778.9" stroke="#f03444" stroke-width="1.6"/>
<rect x="630.43" y="775.1" width="6" height="1" fill="#f03444"/>
<line x1="639.86" y1="768.8" x2="639.86" y2="771" stroke="#10a389" stroke-width="1.7"/>
<rect x="636.76" y="771" width="6.2" height="5.7" fill="#10a389"/>
<rect x="638.11" y="772.65" width="3.5" height="2.4" fill="#1e202e"/>
<rect x="643.19" y="760.1" width="6.2" height="11.8" fill="#10a389"/>
<rect x="644.54" y="761.75" width="3.5" height="8.5" fill="#1e202e"/>
<rect x="650.21" y="762.1" width="5" height="6.7" fill="#f03444"/>
<line x1="659.14" y1="768.8" x2="659.14" y2="771" stroke="#f03444" stroke-width="1.6"/>
<rect x="656.14" y="768.8" width="6" height="1.2" fill="#f03444"/>
<line x1="665.57" y1="763" x2="665.57" y2="764" stroke="#10a389" stroke-width="1.7"/>
<rect x="662.47" y="764" width="6.2" height="5.7" fill="#10a389"/>
<rect x="663.82" y="765.65" width="3.5" height="2.4" fill="#1e202e"/>
<rect x="671.1" y="763.1" width="1.8" height="4.9" fill="#f03444"/>
<line x1="678.43" y1="763" x2="678.43" y2="767" stroke="#f03444" stroke-width="1.6"/>
<rect x="675.43" y="764.4" width="6" height="1" fill="#f03444"/>
<line x1="684.86" y1="764" x2="684.86" y2="769" stroke="#f03444" stroke-width="1.6"/>
<rect x="681.86" y="765.5" width="6" height="1" fill="#f03444"/>
<line x1="691.29" y1="768" x2="691.29" y2="769" stroke="#10a389" stroke-width="1.7"/>
<rect x="688.19" y="753.1" width="6.2" height="14.9" fill="#10a389"/>
<rect x="689.54" y="754.75" width="3.5" height="11.6" fill="#1e202e"/>
<line x1="697.71" y1="753.9" x2="697.71" y2="763" stroke="#f03444" stroke-width="1.6"/>
<rect x="695.21" y="753.9" width="5" height="7.9" fill="#f03444"/>
<rect x="700.9" y="619.9" width="6.2" height="85.5" fill="#10a389"/>
<rect x="702.25" y="621.55" width="3.5" height="82.2" fill="#1e202e"/>
<line x1="710.43" y1="611.1" x2="710.43" y2="633" stroke="#f03444" stroke-width="1.6"/>
<rect x="707.93" y="617.8" width="5" height="7.9" fill="#f03444"/>
<line x1="716.86" y1="604.9" x2="716.86" y2="607" stroke="#10a389" stroke-width="1.7"/>
<line x1="716.86" y1="626.7" x2="716.86" y2="630.9" stroke="#10a389" stroke-width="1.7"/>
<rect x="713.76" y="607" width="6.2" height="19.7" fill="#10a389"/>
<rect x="715.11" y="608.65" width="3.5" height="16.4" fill="#1e202e"/>
<line x1="723.29" y1="607" x2="723.29" y2="620.9" stroke="#f03444" stroke-width="1.6"/>
<rect x="720.79" y="607" width="5" height="6.6" fill="#f03444"/>
<line x1="729.71" y1="608.4" x2="729.71" y2="611.1" stroke="#10a389" stroke-width="1.7"/>
<line x1="729.71" y1="613.6" x2="729.71" y2="618.8" stroke="#10a389" stroke-width="1.7"/>
<rect x="726.61" y="611.1" width="6.2" height="2.5" fill="#10a389"/>
<rect x="727.96" y="611.9" width="3.5" height="0.9" fill="#1e202e"/>
<line x1="736.14" y1="589.9" x2="736.14" y2="596.2" stroke="#10a389" stroke-width="1.7"/>
<line x1="736.14" y1="610.7" x2="736.14" y2="611.8" stroke="#10a389" stroke-width="1.7"/>
<rect x="733.04" y="596.2" width="6.2" height="14.5" fill="#10a389"/>
<rect x="734.39" y="597.85" width="3.5" height="11.2" fill="#1e202e"/>
<line x1="742.57" y1="589.9" x2="742.57" y2="602.8" stroke="#f03444" stroke-width="1.6"/>
<rect x="740.07" y="596.2" width="5" height="3.5" fill="#f03444"/>
<line x1="749" y1="583" x2="749" y2="587.2" stroke="#10a389" stroke-width="1.7"/>
<line x1="749" y1="598.6" x2="749" y2="600.7" stroke="#10a389" stroke-width="1.7"/>
<rect x="745.9" y="587.2" width="6.2" height="11.4" fill="#10a389"/>
<rect x="747.25" y="588.85" width="3.5" height="8.1" fill="#1e202e"/>
<line x1="755.43" y1="585.1" x2="755.43" y2="598" stroke="#f03444" stroke-width="1.6"/>
<rect x="752.93" y="587.2" width="5" height="4.8" fill="#f03444"/>
<rect x="760.96" y="587.2" width="1.8" height="7.3" fill="#10a389"/>
<line x1="768.29" y1="576.2" x2="768.29" y2="577.8" stroke="#10a389" stroke-width="1.7"/>
<rect x="765.19" y="577.8" width="6.2" height="14.6" fill="#10a389"/>
<rect x="766.54" y="579.45" width="3.5" height="11.3" fill="#1e202e"/>
<line x1="774.71" y1="574.7" x2="774.71" y2="583.7" stroke="#f03444" stroke-width="1.6"/>
<rect x="771.71" y="579.4" width="6" height="1" fill="#f03444"/>
<rect x="778.04" y="553.3" width="6.2" height="27.3" fill="#10a389"/>
<rect x="779.39" y="554.95" width="3.5" height="24" fill="#1e202e"/>
<line x1="787.57" y1="537.9" x2="787.57" y2="549.1" stroke="#10a389" stroke-width="1.7"/>
<line x1="787.57" y1="554.5" x2="787.57" y2="558.7" stroke="#10a389" stroke-width="1.7"/>
<rect x="784.47" y="549.1" width="6.2" height="5.4" fill="#10a389"/>
<rect x="785.82" y="550.75" width="3.5" height="2.1" fill="#1e202e"/>
<line x1="794" y1="536.9" x2="794" y2="552.5" stroke="#f03444" stroke-width="1.6"/>
<rect x="791" y="550.8" width="6" height="1.7" fill="#f03444"/>
<line x1="800.43" y1="553.9" x2="800.43" y2="575" stroke="#f03444" stroke-width="1.6"/>
<rect x="797.93" y="556.6" width="5" height="16.5" fill="#f03444"/>
<line x1="806.86" y1="568.9" x2="806.86" y2="571.2" stroke="#10a389" stroke-width="1.7"/>
<line x1="806.86" y1="573.7" x2="806.86" y2="579.5" stroke="#10a389" stroke-width="1.7"/>
<rect x="803.76" y="571.2" width="6.2" height="2.5" fill="#10a389"/>
<rect x="805.11" y="572" width="3.5" height="0.9" fill="#1e202e"/>
<line x1="813.29" y1="556" x2="813.29" y2="565.4" stroke="#10a389" stroke-width="1.7"/>
<rect x="810.19" y="565.4" width="6.2" height="6.8" fill="#10a389"/>
<rect x="811.54" y="567.05" width="3.5" height="3.5" fill="#1e202e"/>
<line x1="819.71" y1="562" x2="819.71" y2="570.6" stroke="#f03444" stroke-width="1.6"/>
<rect x="816.71" y="563.7" width="6" height="1.7" fill="#f03444"/>
<line x1="826.14" y1="563.3" x2="826.14" y2="571.6" stroke="#f03444" stroke-width="1.6"/>
<rect x="823.64" y="564.5" width="5" height="6.5" fill="#f03444"/>
<rect x="831.67" y="566.8" width="1.8" height="10.1" fill="#f03444"/>
<line x1="839" y1="566.8" x2="839" y2="572" stroke="#f03444" stroke-width="1.6"/>
<rect x="836" y="568.9" width="6" height="1" fill="#f03444"/>
<line x1="845.43" y1="564.2" x2="845.43" y2="566.4" stroke="#10a389" stroke-width="1.7"/>
<line x1="845.43" y1="570.8" x2="845.43" y2="573.8" stroke="#10a389" stroke-width="1.7"/>
<rect x="842.33" y="566.4" width="6.2" height="4.4" fill="#10a389"/>
<rect x="843.68" y="568.05" width="3.5" height="1.1" fill="#1e202e"/>
<rect x="849.36" y="565.9" width="5" height="8.8" fill="#f03444"/>
<rect x="855.19" y="568.3" width="6.2" height="6" fill="#10a389"/>
<rect x="856.54" y="569.95" width="3.5" height="2.7" fill="#1e202e"/>
<line x1="864.71" y1="563" x2="864.71" y2="570.8" stroke="#10a389" stroke-width="1.6"/>
<rect x="861.71" y="568.3" width="6" height="2.5" fill="#10a389"/>
<line x1="871.14" y1="557.2" x2="871.14" y2="558.9" stroke="#10a389" stroke-width="1.7"/>
<rect x="868.04" y="558.9" width="6.2" height="9.7" fill="#10a389"/>
<rect x="869.39" y="560.55" width="3.5" height="6.4" fill="#1e202e"/>
<line x1="877.57" y1="553" x2="877.57" y2="556.1" stroke="#10a389" stroke-width="1.7"/>
<line x1="877.57" y1="560.7" x2="877.57" y2="562.9" stroke="#10a389" stroke-width="1.7"/>
<rect x="874.47" y="556.1" width="6.2" height="4.6" fill="#10a389"/>
<rect x="875.82" y="557.75" width="3.5" height="1.3" fill="#1e202e"/>
<line x1="884" y1="555" x2="884" y2="566.8" stroke="#f03444" stroke-width="1.6"/>
<rect x="881.5" y="556.7" width="5" height="7.5" fill="#f03444"/>
<rect x="889.53" y="560.8" width="1.8" height="4.7" fill="#f03444"/>
<line x1="896.86" y1="557.2" x2="896.86" y2="559.1" stroke="#10a389" stroke-width="1.7"/>
<rect x="893.76" y="559.1" width="6.2" height="5.2" fill="#10a389"/>
<rect x="895.11" y="560.75" width="3.5" height="1.9" fill="#1e202e"/>
<rect x="900.79" y="558" width="5" height="4" fill="#f03444"/>
<line x1="909.71" y1="561.1" x2="909.71" y2="566.8" stroke="#f03444" stroke-width="1.6"/>
<rect x="906.71" y="562.2" width="6" height="2" fill="#f03444"/>
<line x1="916.14" y1="559.1" x2="916.14" y2="564.6" stroke="#10a389" stroke-width="1.6"/>
<rect x="913.14" y="562.2" width="6" height="2.4" fill="#10a389"/>
<line x1="922.57" y1="558" x2="922.57" y2="570.7" stroke="#f03444" stroke-width="1.6"/>
<rect x="920.07" y="563.1" width="5" height="7.6" fill="#f03444"/>
<line x1="929" y1="567.2" x2="929" y2="575.1" stroke="#f03444" stroke-width="1.6"/>
<rect x="926.5" y="569.9" width="5" height="3.9" fill="#f03444"/>
<line x1="935.43" y1="569.9" x2="935.43" y2="573.8" stroke="#10a389" stroke-width="1.6"/>
<rect x="932.43" y="572.2" width="6" height="1.6" fill="#10a389"/>
<line x1="941.86" y1="564" x2="941.86" y2="565" stroke="#10a389" stroke-width="1.7"/>
<rect x="938.76" y="565" width="6.2" height="7.9" fill="#10a389"/>
<rect x="940.11" y="566.65" width="3.5" height="4.6" fill="#1e202e"/>
<line x1="948.29" y1="565" x2="948.29" y2="573.8" stroke="#f03444" stroke-width="1.6"/>
<rect x="945.79" y="566.8" width="5" height="5.2" fill="#f03444"/>
<line x1="954.71" y1="550" x2="954.71" y2="552.2" stroke="#10a389" stroke-width="1.7"/>
<rect x="951.61" y="552.2" width="6.2" height="20.7" fill="#10a389"/>
<rect x="952.96" y="553.85" width="3.5" height="17.4" fill="#1e202e"/>
<line x1="961.14" y1="550.9" x2="961.14" y2="561.7" stroke="#f03444" stroke-width="1.6"/>
<rect x="958.64" y="551.9" width="5" height="9.8" fill="#f03444"/>
<line x1="967.57" y1="557.9" x2="967.57" y2="562.8" stroke="#10a389" stroke-width="1.6"/>
<rect x="964.57" y="561.2" width="6" height="1.6" fill="#10a389"/>
<line x1="974" y1="548" x2="974" y2="550.2" stroke="#10a389" stroke-width="1.7"/>
<rect x="970.9" y="550.2" width="6.2" height="11.5" fill="#10a389"/>
<rect x="972.25" y="551.85" width="3.5" height="8.2" fill="#1e202e"/>
<line x1="980.43" y1="540.2" x2="980.43" y2="542.4" stroke="#10a389" stroke-width="1.7"/>
<line x1="980.43" y1="550.2" x2="980.43" y2="555.7" stroke="#10a389" stroke-width="1.7"/>
<rect x="977.33" y="542.4" width="6.2" height="7.8" fill="#10a389"/>
<rect x="978.68" y="544.05" width="3.5" height="4.5" fill="#1e202e"/>
<line x1="986.86" y1="543.1" x2="986.86" y2="553" stroke="#f03444" stroke-width="1.6"/>
<rect x="984.36" y="545.9" width="5" height="4.9" fill="#f03444"/>
<rect x="992.39" y="545.1" width="1.8" height="8.8" fill="#f03444"/>
<line x1="999.71" y1="549.1" x2="999.71" y2="553.9" stroke="#10a389" stroke-width="1.6"/>
<rect x="996.71" y="549.1" width="6" height="2.8" fill="#10a389"/>
<line x1="1006.14" y1="546.1" x2="1006.14" y2="551.9" stroke="#10a389" stroke-width="1.6"/>
<rect x="1003.14" y="547.5" width="6" height="2.2" fill="#10a389"/>
<line x1="1012.57" y1="532.9" x2="1012.57" y2="537.3" stroke="#10a389" stroke-width="1.7"/>
<line x1="1012.57" y1="549.1" x2="1012.57" y2="551.9" stroke="#10a389" stroke-width="1.7"/>
<rect x="1009.47" y="537.3" width="6.2" height="11.8" fill="#10a389"/>
<rect x="1010.82" y="538.95" width="3.5" height="8.5" fill="#1e202e"/>
<line x1="1019" y1="531.1" x2="1019" y2="533.3" stroke="#10a389" stroke-width="1.7"/>
<line x1="1019" y1="537.9" x2="1019" y2="538.7" stroke="#10a389" stroke-width="1.7"/>
<rect x="1015.9" y="533.3" width="6.2" height="4.6" fill="#10a389"/>
<rect x="1017.25" y="534.95" width="3.5" height="1.3" fill="#1e202e"/>
<line x1="1025.43" y1="527" x2="1025.43" y2="543.1" stroke="#f03444" stroke-width="1.6"/>
<rect x="1022.43" y="534" width="6" height="2.9" fill="#f03444"/>
<line x1="1031.86" y1="535.1" x2="1031.86" y2="538.7" stroke="#10a389" stroke-width="1.6"/>
<rect x="1028.86" y="535.1" width="6" height="2.5" fill="#10a389"/>
<line x1="1038.29" y1="531.1" x2="1038.29" y2="544.2" stroke="#f03444" stroke-width="1.6"/>
<rect x="1035.79" y="536" width="5" height="6.4" fill="#f03444"/>
<rect x="1041.61" y="537.3" width="6.2" height="5.6" fill="#10a389"/>
<rect x="1042.96" y="538.95" width="3.5" height="2.3" fill="#1e202e"/>
<line x1="1051.14" y1="533" x2="1051.14" y2="538.7" stroke="#10a389" stroke-width="1.6"/>
<rect x="1048.14" y="537.3" width="6" height="1.4" fill="#10a389"/>
<line x1="1057.57" y1="525" x2="1057.57" y2="526.1" stroke="#10a389" stroke-width="1.7"/>
<line x1="1057.57" y1="539.8" x2="1057.57" y2="540.9" stroke="#10a389" stroke-width="1.7"/>
<rect x="1054.47" y="526.1" width="6.2" height="13.7" fill="#10a389"/>
<rect x="1055.82" y="527.75" width="3.5" height="10.4" fill="#1e202e"/>
<line x1="1064" y1="499.9" x2="1064" y2="502.9" stroke="#10a389" stroke-width="1.7"/>
<rect x="1060.9" y="502.9" width="6.2" height="24.9" fill="#10a389"/>
<rect x="1062.25" y="504.55" width="3.5" height="21.6" fill="#1e202e"/>
<line x1="1070.43" y1="501.8" x2="1070.43" y2="518.3" stroke="#f03444" stroke-width="1.6"/>
<rect x="1067.93" y="503.7" width="5" height="6.3" fill="#f03444"/>
<line x1="1076.86" y1="505" x2="1076.86" y2="520.1" stroke="#f03444" stroke-width="1.6"/>
<rect x="1074.36" y="511" width="5" height="7.7" fill="#f03444"/>
<line x1="1083.29" y1="505" x2="1083.29" y2="512.5" stroke="#10a389" stroke-width="1.7"/>
<line x1="1083.29" y1="519" x2="1083.29" y2="520.1" stroke="#10a389" stroke-width="1.7"/>
<rect x="1080.19" y="512.5" width="6.2" height="6.5" fill="#10a389"/>
<rect x="1081.54" y="514.15" width="3.5" height="3.2" fill="#1e202e"/>
<line x1="1089.71" y1="505" x2="1089.71" y2="506.2" stroke="#10a389" stroke-width="1.7"/>
<rect x="1086.61" y="506.2" width="6.2" height="6.5" fill="#10a389"/>
<rect x="1087.96" y="507.85" width="3.5" height="3.2" fill="#1e202e"/>
<line x1="1096.14" y1="471" x2="1096.14" y2="476.2" stroke="#10a389" stroke-width="1.7"/>
<line x1="1096.14" y1="506.9" x2="1096.14" y2="511.9" stroke="#10a389" stroke-width="1.7"/>
<rect x="1093.04" y="476.2" width="6.2" height="30.7" fill="#10a389"/>
<rect x="1094.39" y="477.85" width="3.5" height="27.4" fill="#1e202e"/>
<line x1="1102.57" y1="465.9" x2="1102.57" y2="482" stroke="#f03444" stroke-width="1.6"/>
<rect x="1100.07" y="475.1" width="5" height="5.8" fill="#f03444"/>
<line x1="1109" y1="477.1" x2="1109" y2="488.2" stroke="#f03444" stroke-width="1.6"/>
<rect x="1106.5" y="479.7" width="5" height="4.2" fill="#f03444"/>
<line x1="1115.43" y1="472" x2="1115.43" y2="477.4" stroke="#10a389" stroke-width="1.7"/>
<rect x="1112.33" y="477.4" width="6.2" height="5.1" fill="#10a389"/>
<rect x="1113.68" y="479.05" width="3.5" height="1.8" fill="#1e202e"/>
<line x1="1121.86" y1="472.4" x2="1121.86" y2="477.1" stroke="#10a389" stroke-width="1.6"/>
<rect x="1118.86" y="474.3" width="6" height="1" fill="#10a389"/>
<rect x="1127.39" y="469.7" width="1.8" height="10.5" fill="#f03444"/>
<line x1="1134.71" y1="457" x2="1134.71" y2="461.3" stroke="#10a389" stroke-width="1.7"/>
<rect x="1131.61" y="461.3" width="6.2" height="16.9" fill="#10a389"/>
<rect x="1132.96" y="462.95" width="3.5" height="13.6" fill="#1e202e"/>
<line x1="1141.14" y1="460.9" x2="1141.14" y2="477.1" stroke="#f03444" stroke-width="1.6"/>
<rect x="1138.64" y="462.4" width="5" height="9.6" fill="#f03444"/>
<line x1="1147.57" y1="457" x2="1147.57" y2="487" stroke="#f03444" stroke-width="1.6"/>
<rect x="1145.07" y="472" width="5" height="14.2" fill="#f03444"/>
<line x1="1154" y1="485.8" x2="1154" y2="494" stroke="#10a389" stroke-width="1.7"/>
<rect x="1150.9" y="469.7" width="6.2" height="16.1" fill="#10a389"/>
<rect x="1152.25" y="471.35" width="3.5" height="12.8" fill="#1e202e"/>
<rect x="1157.33" y="460.5" width="6.2" height="10.3" fill="#10a389"/>
<rect x="1158.68" y="462.15" width="3.5" height="7" fill="#1e202e"/>
<line x1="1166.86" y1="461.3" x2="1166.86" y2="485.1" stroke="#10a389" stroke-width="1.7"/>
<rect x="1163.76" y="454.4" width="6.2" height="6.9" fill="#10a389"/>
<rect x="1165.11" y="456.05" width="3.5" height="3.6" fill="#1e202e"/>
<rect x="1171.99" y="455.8" width="2.6" height="1" fill="#555a66"/>
<rect x="1177.21" y="455.2" width="5" height="10.7" fill="#f03444"/>
<line x1="1186" y1="460.2" x2="1186" y2="508.9" stroke="#f03444" stroke-width="1.6"/>
<rect x="1183.5" y="462.8" width="5" height="12" fill="#f03444"/>
<line x1="1192.43" y1="408.1" x2="1192.43" y2="416.8" stroke="#10a389" stroke-width="1.7"/>
<line x1="1192.43" y1="478.2" x2="1192.43" y2="486.2" stroke="#10a389" stroke-width="1.7"/>
<rect x="1189.33" y="416.8" width="6.2" height="61.4" fill="#10a389"/>
<rect x="1190.68" y="418.45" width="3.5" height="58.1" fill="#1e202e"/>
<line x1="1198.86" y1="384" x2="1198.86" y2="413.4" stroke="#10a389" stroke-width="1.7"/>
<line x1="1198.86" y1="416.5" x2="1198.86" y2="420.4" stroke="#10a389" stroke-width="1.7"/>
<rect x="1195.76" y="413.4" width="6.2" height="3.1" fill="#10a389"/>
<rect x="1197.11" y="414.5" width="3.5" height="0.9" fill="#1e202e"/>
<line x1="1205.29" y1="378.9" x2="1205.29" y2="383.2" stroke="#10a389" stroke-width="1.7"/>
<line x1="1205.29" y1="413.4" x2="1205.29" y2="427.9" stroke="#10a389" stroke-width="1.7"/>
<rect x="1202.19" y="383.2" width="6.2" height="30.2" fill="#10a389"/>
<rect x="1203.54" y="384.85" width="3.5" height="26.9" fill="#1e202e"/>
<line x1="1211.71" y1="382.7" x2="1211.71" y2="395.7" stroke="#10a389" stroke-width="1.7"/>
<rect x="1208.61" y="351.4" width="6.2" height="31.3" fill="#10a389"/>
<rect x="1209.96" y="353.05" width="3.5" height="28" fill="#1e202e"/>
<line x1="1218.14" y1="334.2" x2="1218.14" y2="340.4" stroke="#10a389" stroke-width="1.7"/>
<line x1="1218.14" y1="351.9" x2="1218.14" y2="370.6" stroke="#10a389" stroke-width="1.7"/>
<rect x="1215.04" y="340.4" width="6.2" height="11.5" fill="#10a389"/>
<rect x="1216.39" y="342.05" width="3.5" height="8.2" fill="#1e202e"/>
<line x1="1224.57" y1="325.9" x2="1224.57" y2="355.7" stroke="#10a389" stroke-width="1.6"/>
<rect x="1221.57" y="339.5" width="6" height="1" fill="#10a389"/>
<line x1="1231" y1="328.1" x2="1231" y2="332.4" stroke="#10a389" stroke-width="1.7"/>
<line x1="1231" y1="339.8" x2="1231" y2="349.7" stroke="#10a389" stroke-width="1.7"/>
<rect x="1227.9" y="332.4" width="6.2" height="7.4" fill="#10a389"/>
<rect x="1229.25" y="334.05" width="3.5" height="4.1" fill="#1e202e"/>
<line x1="1237.43" y1="332" x2="1237.43" y2="344.5" stroke="#f03444" stroke-width="1.6"/>
<rect x="1234.43" y="333.3" width="6" height="2.4" fill="#f03444"/>
<line x1="1243.86" y1="334.2" x2="1243.86" y2="357.5" stroke="#f03444" stroke-width="1.6"/>
<rect x="1241.36" y="337" width="5" height="17.7" fill="#f03444"/>
<line x1="1250.29" y1="346.3" x2="1250.29" y2="350.4" stroke="#10a389" stroke-width="1.7"/>
<line x1="1250.29" y1="356.6" x2="1250.29" y2="366.8" stroke="#10a389" stroke-width="1.7"/>
<rect x="1247.19" y="350.4" width="6.2" height="6.2" fill="#10a389"/>
<rect x="1248.54" y="352.05" width="3.5" height="2.9" fill="#1e202e"/>
<line x1="1256.71" y1="346.3" x2="1256.71" y2="357.5" stroke="#10a389" stroke-width="1.6"/>
<rect x="1253.71" y="348.6" width="6" height="1" fill="#10a389"/>
<line x1="1263.14" y1="330.1" x2="1263.14" y2="340.4" stroke="#10a389" stroke-width="1.7"/>
<line x1="1263.14" y1="347.8" x2="1263.14" y2="353.8" stroke="#10a389" stroke-width="1.7"/>
<rect x="1260.04" y="340.4" width="6.2" height="7.4" fill="#10a389"/>
<rect x="1261.39" y="342.05" width="3.5" height="4.1" fill="#1e202e"/>
<line x1="1269.57" y1="340.2" x2="1269.57" y2="346.3" stroke="#f03444" stroke-width="1.6"/>
<rect x="1266.57" y="340.2" width="6" height="2.4" fill="#f03444"/>
<line x1="1276" y1="335.2" x2="1276" y2="348.6" stroke="#10a389" stroke-width="1.6"/>
<rect x="1273" y="340.2" width="6" height="2.4" fill="#10a389"/>
<rect x="1279.33" y="303.5" width="6.2" height="36.3" fill="#10a389"/>
<rect x="1280.68" y="305.15" width="3.5" height="33" fill="#1e202e"/>
<line x1="1288.86" y1="283.4" x2="1288.86" y2="287.3" stroke="#10a389" stroke-width="1.7"/>
<line x1="1288.86" y1="306.3" x2="1288.86" y2="310.6" stroke="#10a389" stroke-width="1.7"/>
<rect x="1285.76" y="287.3" width="6.2" height="19" fill="#10a389"/>
<rect x="1287.11" y="288.95" width="3.5" height="15.7" fill="#1e202e"/>
<line x1="1295.29" y1="287.3" x2="1295.29" y2="301.7" stroke="#f03444" stroke-width="1.6"/>
<rect x="1292.79" y="287.3" width="5" height="11.6" fill="#f03444"/>
<line x1="1301.71" y1="292" x2="1301.71" y2="296.1" stroke="#10a389" stroke-width="1.7"/>
<line x1="1301.71" y1="299.2" x2="1301.71" y2="305.8" stroke="#10a389" stroke-width="1.7"/>
<rect x="1298.61" y="296.1" width="6.2" height="3.1" fill="#10a389"/>
<rect x="1299.96" y="297.2" width="3.5" height="0.9" fill="#1e202e"/>
<line x1="1308.14" y1="295.1" x2="1308.14" y2="306.7" stroke="#f03444" stroke-width="1.6"/>
<rect x="1305.64" y="295.1" width="5" height="8" fill="#f03444"/>
<line x1="1314.57" y1="274.1" x2="1314.57" y2="283.4" stroke="#10a389" stroke-width="1.7"/>
<rect x="1311.47" y="283.4" width="6.2" height="19.7" fill="#10a389"/>
<rect x="1312.82" y="285.05" width="3.5" height="16.4" fill="#1e202e"/>
<line x1="1321" y1="265.1" x2="1321" y2="269.7" stroke="#10a389" stroke-width="1.7"/>
<line x1="1321" y1="283.5" x2="1321" y2="291.9" stroke="#10a389" stroke-width="1.7"/>
<rect x="1317.9" y="269.7" width="6.2" height="13.8" fill="#10a389"/>
<rect x="1319.25" y="271.35" width="3.5" height="10.5" fill="#1e202e"/>
<line x1="1327.43" y1="254" x2="1327.43" y2="256.2" stroke="#10a389" stroke-width="1.7"/>
<line x1="1327.43" y1="270.5" x2="1327.43" y2="276.6" stroke="#10a389" stroke-width="1.7"/>
<rect x="1324.33" y="256.2" width="6.2" height="14.3" fill="#10a389"/>
<rect x="1325.68" y="257.85" width="3.5" height="11" fill="#1e202e"/>
<line x1="1333.86" y1="239" x2="1333.86" y2="247.5" stroke="#10a389" stroke-width="1.7"/>
<rect x="1330.76" y="247.5" width="6.2" height="9.9" fill="#10a389"/>
<rect x="1332.11" y="249.15" width="3.5" height="6.6" fill="#1e202e"/>
<line x1="1340.29" y1="201.9" x2="1340.29" y2="208.3" stroke="#10a389" stroke-width="1.7"/>
<line x1="1340.29" y1="247.9" x2="1340.29" y2="249" stroke="#10a389" stroke-width="1.7"/>
<rect x="1337.19" y="208.3" width="6.2" height="39.6" fill="#10a389"/>
<rect x="1338.54" y="209.95" width="3.5" height="36.3" fill="#1e202e"/>
<line x1="1346.71" y1="185" x2="1346.71" y2="191.2" stroke="#10a389" stroke-width="1.7"/>
<line x1="1346.71" y1="209.6" x2="1346.71" y2="215.7" stroke="#10a389" stroke-width="1.7"/>
<rect x="1343.61" y="191.2" width="6.2" height="18.4" fill="#10a389"/>
<rect x="1344.96" y="192.85" width="3.5" height="15.1" fill="#1e202e"/>
<line x1="1353.14" y1="192.2" x2="1353.14" y2="226" stroke="#f03444" stroke-width="1.6"/>
<rect x="1350.64" y="192.2" width="5" height="29.2" fill="#f03444"/>
<line x1="1359.57" y1="199.9" x2="1359.57" y2="208.3" stroke="#10a389" stroke-width="1.7"/>
<rect x="1356.47" y="208.3" width="6.2" height="12.3" fill="#10a389"/>
<rect x="1357.82" y="209.95" width="3.5" height="9" fill="#1e202e"/>
<line x1="1366" y1="206.8" x2="1366" y2="222.1" stroke="#f03444" stroke-width="1.6"/>
<rect x="1363.5" y="206.8" width="5" height="8.9" fill="#f03444"/>
<line x1="1372.43" y1="215.2" x2="1372.43" y2="258.9" stroke="#f03444" stroke-width="1.6"/>
<rect x="1369.93" y="215.2" width="5" height="39.6" fill="#f03444"/>
<line x1="1378.86" y1="240.2" x2="1378.86" y2="245.5" stroke="#10a389" stroke-width="1.7"/>
<rect x="1375.76" y="245.5" width="6.2" height="10.1" fill="#10a389"/>
<rect x="1377.11" y="247.15" width="3.5" height="6.8" fill="#1e202e"/>
<line x1="1385.29" y1="210.9" x2="1385.29" y2="222.4" stroke="#10a389" stroke-width="1.7"/>
<rect x="1382.19" y="222.4" width="6.2" height="23.8" fill="#10a389"/>
<rect x="1383.54" y="224.05" width="3.5" height="20.5" fill="#1e202e"/>
<line x1="1391.71" y1="216" x2="1391.71" y2="235.9" stroke="#f03444" stroke-width="1.6"/>
<rect x="1389.21" y="222.9" width="5" height="13" fill="#f03444"/>
<line x1="1398.14" y1="230.9" x2="1398.14" y2="244.1" stroke="#f03444" stroke-width="1.6"/>
<rect x="1395.64" y="234.4" width="5" height="5.4" fill="#f03444"/>
<line x1="1404.57" y1="224.1" x2="1404.57" y2="230.6" stroke="#10a389" stroke-width="1.7"/>
<line x1="1404.57" y1="241.8" x2="1404.57" y2="244.1" stroke="#10a389" stroke-width="1.7"/>
<rect x="1401.47" y="230.6" width="6.2" height="11.2" fill="#10a389"/>
<rect x="1402.82" y="232.25" width="3.5" height="7.9" fill="#1e202e"/>
<line x1="1411" y1="230.3" x2="1411" y2="241" stroke="#f03444" stroke-width="1.6"/>
<rect x="1408.5" y="230.3" width="5" height="5.6" fill="#f03444"/>
<line x1="1417.43" y1="215.7" x2="1417.43" y2="224" stroke="#10a389" stroke-width="1.7"/>
<rect x="1414.33" y="224" width="6.2" height="11.6" fill="#10a389"/>
<rect x="1415.68" y="225.65" width="3.5" height="8.3" fill="#1e202e"/>
<line x1="1423.86" y1="219.8" x2="1423.86" y2="229.8" stroke="#10a389" stroke-width="1.6"/>
<rect x="1420.86" y="221.4" width="6" height="2.3" fill="#10a389"/>
<line x1="1430.29" y1="209.1" x2="1430.29" y2="217.5" stroke="#10a389" stroke-width="1.7"/>
<line x1="1430.29" y1="221.7" x2="1430.29" y2="224" stroke="#10a389" stroke-width="1.7"/>
<rect x="1427.19" y="217.5" width="6.2" height="4.2" fill="#10a389"/>
<rect x="1428.54" y="219.15" width="3.5" height="0.9" fill="#1e202e"/>
<line x1="1436.71" y1="218.8" x2="1436.71" y2="229" stroke="#f03444" stroke-width="1.6"/>
<rect x="1434.21" y="219.8" width="5" height="9.2" fill="#f03444"/>
<line x1="1443.14" y1="224.9" x2="1443.14" y2="240.2" stroke="#f03444" stroke-width="1.6"/>
<rect x="1440.64" y="228" width="5" height="6.9" fill="#f03444"/>
<line x1="1449.57" y1="235.2" x2="1449.57" y2="242.1" stroke="#f03444" stroke-width="1.6"/>
<rect x="1446.57" y="235.2" width="6" height="2.3" fill="#f03444"/>
<rect x="1452.9" y="229.3" width="6.2" height="8.3" fill="#10a389"/>
<rect x="1454.25" y="230.95" width="3.5" height="5" fill="#1e202e"/>
<line x1="1462.43" y1="230.2" x2="1462.43" y2="236.8" stroke="#f03444" stroke-width="1.6"/>
<rect x="1459.43" y="230.2" width="6" height="1.4" fill="#f03444"/>
<line x1="1468.86" y1="230.6" x2="1468.86" y2="241" stroke="#f03444" stroke-width="1.6"/>
<rect x="1466.36" y="230.6" width="5" height="9.2" fill="#f03444"/>
<line x1="1475.29" y1="239.8" x2="1475.29" y2="241" stroke="#10a389" stroke-width="1.7"/>
<rect x="1472.19" y="231.1" width="6.2" height="8.7" fill="#10a389"/>
<rect x="1473.54" y="232.75" width="3.5" height="5.4" fill="#1e202e"/>
<line x1="1481.71" y1="215.3" x2="1481.71" y2="217.3" stroke="#10a389" stroke-width="1.7"/>
<rect x="1478.61" y="217.3" width="6.2" height="16.1" fill="#10a389"/>
<rect x="1479.96" y="218.95" width="3.5" height="12.8" fill="#1e202e"/>
<line x1="1488.14" y1="203" x2="1488.14" y2="207.2" stroke="#10a389" stroke-width="1.7"/>
<rect x="1485.04" y="207.2" width="6.2" height="11.9" fill="#10a389"/>
<rect x="1486.39" y="208.85" width="3.5" height="8.6" fill="#1e202e"/>
<line x1="1494.57" y1="206.6" x2="1494.57" y2="220.7" stroke="#f03444" stroke-width="1.6"/>
<rect x="1492.07" y="208.1" width="5" height="8" fill="#f03444"/>
<rect x="1498.5" y="215.3" width="5" height="10.7" fill="#f03444"/>
<line x1="1507.43" y1="215" x2="1507.43" y2="226" stroke="#10a389" stroke-width="1.6"/>
<rect x="1504.93" y="222.2" width="5" height="3.8" fill="#10a389"/>
<line x1="1513.86" y1="221.1" x2="1513.86" y2="235.7" stroke="#f03444" stroke-width="1.6"/>
<rect x="1511.36" y="223" width="5" height="4.3" fill="#f03444"/>
<line x1="1520.29" y1="228.3" x2="1520.29" y2="232.9" stroke="#f03444" stroke-width="1.6"/>
<rect x="1517.29" y="228.3" width="6" height="2.8" fill="#f03444"/>
<line x1="1526.71" y1="225" x2="1526.71" y2="257" stroke="#f03444" stroke-width="1.6"/>
<rect x="1524.21" y="230.6" width="5" height="24.6" fill="#f03444"/>
<line x1="1533.14" y1="244" x2="1533.14" y2="246.4" stroke="#10a389" stroke-width="1.7"/>
<rect x="1530.04" y="246.4" width="6.2" height="9.5" fill="#10a389"/>
<rect x="1531.39" y="248.05" width="3.5" height="6.2" fill="#1e202e"/>
<line x1="1539.57" y1="247" x2="1539.57" y2="313.9" stroke="#f03444" stroke-width="1.6"/>
<rect x="1537.07" y="247" width="5" height="53.7" fill="#f03444"/>
<line x1="1546" y1="268.2" x2="1546" y2="278.6" stroke="#10a389" stroke-width="1.7"/>
<line x1="1546" y1="301.6" x2="1546" y2="302.7" stroke="#10a389" stroke-width="1.7"/>
<rect x="1542.9" y="278.6" width="6.2" height="23" fill="#10a389"/>
<rect x="1544.25" y="280.25" width="3.5" height="19.7" fill="#1e202e"/>
<line x1="1552.43" y1="262.1" x2="1552.43" y2="266.2" stroke="#10a389" stroke-width="1.7"/>
<line x1="1552.43" y1="278.6" x2="1552.43" y2="290" stroke="#10a389" stroke-width="1.7"/>
<rect x="1549.33" y="266.2" width="6.2" height="12.4" fill="#10a389"/>
<rect x="1550.68" y="267.85" width="3.5" height="9.1" fill="#1e202e"/>
<line x1="1558.86" y1="265.9" x2="1558.86" y2="303" stroke="#f03444" stroke-width="1.6"/>
<rect x="1556.36" y="265.9" width="5" height="32.2" fill="#f03444"/>
<line x1="1565.29" y1="287.1" x2="1565.29" y2="291.2" stroke="#10a389" stroke-width="1.7"/>
<line x1="1565.29" y1="298.6" x2="1565.29" y2="300.7" stroke="#10a389" stroke-width="1.7"/>
<rect x="1562.19" y="291.2" width="6.2" height="7.4" fill="#10a389"/>
<rect x="1563.54" y="292.85" width="3.5" height="4.1" fill="#1e202e"/>
<line x1="1571.71" y1="274" x2="1571.71" y2="308.8" stroke="#f03444" stroke-width="1.6"/>
<rect x="1569.21" y="292" width="5" height="11.2" fill="#f03444"/>
<line x1="1578.14" y1="295" x2="1578.14" y2="306.8" stroke="#10a389" stroke-width="1.6"/>
<rect x="1575.14" y="302.7" width="6" height="1" fill="#10a389"/>
</g>
<path d="M6 763 C19.87 763.73 81.2 767.02 110 768.5 C138.8 769.98 191.33 772.98 222 774.1 C252.67 775.22 308.93 775.9 340 776.9 C371.07 777.9 424.33 780.4 455 781.6 C485.67 782.8 545.33 785.23 570 785.9 C594.67 786.57 624 786.49 640 786.6 C656 786.71 683.33 786.69 690 786.7 C691.87 786.55 696 786.4 704 785.6 C712 784.8 738.53 782.15 750 780.7 C761.47 779.25 776.67 776.81 790 774.7 C803.33 772.59 835.33 767.27 850 764.9 C864.67 762.53 886.67 759.17 900 756.9 C913.33 754.63 936.67 750.29 950 747.9 C963.33 745.51 986.67 741.49 1000 739 C1013.33 736.51 1036.67 731.99 1050 729.2 C1063.33 726.41 1086.67 721.17 1100 718.1 C1113.33 715.03 1138.53 709.04 1150 706.2 C1161.47 703.36 1172.67 700.97 1186 696.8 C1199.33 692.63 1230.8 681.91 1250 674.9 C1269.2 667.89 1310 652.67 1330 644.2 C1350 635.73 1381.33 619.81 1400 611.4 C1418.67 602.99 1452.67 588.45 1470 581.1 C1487.33 573.75 1515.6 562.09 1530 556.3 C1544.4 550.51 1571.6 540.18 1578 537.7 " fill="none" stroke="#ee4035" stroke-width="1.55" stroke-linejoin="round" stroke-linecap="round"/>
<path d="M6 791.8 C13.2 791.89 46.13 792.27 60 792.5 C73.87 792.73 95.33 793.13 110 793.5 C124.67 793.87 155.07 794.97 170 795.3 C184.93 795.63 207.33 796.17 222 796 C236.67 795.83 264.27 794.45 280 794 C295.73 793.55 324 792.81 340 792.6 C356 792.39 384.67 792.45 400 792.4 C415.33 792.35 439 792.23 455 792.2 C471 792.17 504.67 792.17 520 792.2 C535.33 792.23 558 792.39 570 792.4 C582 792.41 600.67 792.37 610 792.3 C619.33 792.23 632 792.14 640 791.9 C648 791.66 662.4 791.07 670 790.5 C677.6 789.93 693.4 787.99 697 787.6 C697.93 786.88 703.07 782.92 704 782.2 C706.13 781 715.2 775.97 720 773.2 C724.8 770.43 732.67 765.72 740 761.4 C747.33 757.08 767 745.89 775 740.8 C783 735.71 790 730.41 800 723.2 C810 715.99 834.67 697.79 850 686.7 C865.33 675.61 900.33 650.23 915 640 C929.67 629.77 950 616.67 960 610 C970 603.33 982.12 595.31 990 590 C997.88 584.69 1015.22 572.84 1019.1 570.2 C1024.55 568.84 1049.88 562.52 1060 560 C1070.12 557.48 1085.67 553.83 1095 551.3 C1104.33 548.77 1120.19 543.84 1130 541 C1139.81 538.16 1161.13 532.35 1168.6 530 C1176.07 527.65 1178.48 527.35 1186 523.4 C1193.52 519.45 1213.8 507.79 1225 500.4 C1236.2 493.01 1258.83 476.05 1270 468 C1281.17 459.95 1301.47 445.6 1308.8 440 C1316.13 434.4 1315.51 434.8 1325 426 C1334.49 417.2 1367.33 385.47 1380 374 C1392.67 362.53 1410.67 347.67 1420 340 C1429.33 332.33 1442 322.59 1450 316.5 C1458 310.41 1472 300.33 1480 294.3 C1488 288.27 1503.33 275.7 1510 271.3 C1516.67 266.9 1525.33 262.94 1530 261.3 C1534.67 259.66 1538.6 260.07 1545 259 C1551.4 257.93 1573.6 254.06 1578 253.3 " fill="none" stroke="#f0d55e" stroke-width="1.55" stroke-linejoin="round" stroke-linecap="round"/>
<path d="M6 794.9 C9.2 794.65 23.47 793.52 30 793 C36.53 792.48 48.33 791.2 55 791 C61.67 790.8 72.67 791.23 80 791.5 C87.33 791.77 100.67 792.33 110 793 C119.33 793.67 140.67 795.65 150 796.5 C159.33 797.35 173.47 798.87 180 799.4 C186.53 799.93 195 800.31 199 800.5 C203 800.69 206.93 800.79 210 800.8 C213.07 800.81 218 801.04 222 800.6 C226 800.16 234.93 798.42 240 797.5 C245.07 796.58 252 794.86 260 793.7 C268 792.54 290 789.96 300 788.8 C310 787.64 329.13 785.68 335 785 C340.87 784.32 340.67 783.79 344 783.7 C347.33 783.61 353.2 783.93 360 784.3 C366.8 784.67 385.67 785.67 395 786.5 C404.33 787.33 422 789.62 430 790.5 C438 791.38 447 792.3 455 793.1 C463 793.9 481.33 795.69 490 796.5 C498.67 797.31 514 798.8 520 799.2 C526 799.6 531 799.62 535 799.5 C539 799.38 545.33 798.65 550 798.3 C554.67 797.95 564.67 797.34 570 796.9 C575.33 796.46 584.67 795.59 590 795 C595.33 794.41 602.4 793.89 610 792.5 C617.6 791.11 638.33 786.47 647 784.6 C655.67 782.73 668.24 779.95 675 778.5 C681.76 777.05 694.67 774.34 697.7 773.7 C698.54 772.62 703.16 766.68 704 765.6 C708.48 759.52 728.27 733.11 737.6 720 C746.93 706.89 762.27 685.19 774 667.3 C785.73 649.41 818.72 596.67 825.6 585.8 C827.52 584.96 835.41 581.15 840 579.5 C844.59 577.85 854.67 574.95 860 573.4 C865.33 571.85 874.67 569.13 880 567.9 C885.33 566.67 896.4 564.73 900 564.2 C903.6 563.67 904.33 563.69 907 563.9 C909.67 564.11 915.6 565.51 920 565.8 C924.4 566.09 935.33 566.09 940 566.1 C944.67 566.11 950.33 566.11 955 565.9 C959.67 565.69 967.93 565.34 975 564.5 C982.07 563.66 999.33 561.07 1008 559.6 C1016.67 558.13 1033.33 554.97 1040 553.5 C1046.67 552.03 1053.33 550.35 1058 548.6 C1062.67 546.85 1069.87 542.88 1075 540.4 C1080.13 537.92 1088.01 534.61 1096.5 530 C1104.99 525.39 1130.01 510.72 1138.7 505.8 C1147.39 500.88 1155.37 496.37 1161.7 493.1 C1168.03 489.83 1181.09 484.31 1186.2 481.3 C1191.31 478.29 1194.69 476.01 1200 470.5 C1205.31 464.99 1215.84 450.84 1226 440 C1236.16 429.16 1264.53 402.8 1276.2 389.2 C1287.87 375.6 1306.99 346.57 1313.5 338 C1320.01 329.43 1321.63 328.63 1325 324.9 C1328.37 321.17 1331.96 316.55 1338.8 310 C1345.64 303.45 1367.61 283.53 1376.3 275.8 C1384.99 268.07 1395.81 257.72 1404 252 C1412.19 246.28 1431.57 235.85 1437.7 232.9 C1443.83 229.95 1446.89 230.78 1450 229.9 C1453.11 229.02 1457.67 226.26 1461 226.3 C1464.33 226.34 1470.73 229.68 1475 230.2 C1479.27 230.72 1489 230.55 1493 230.2 C1497 229.85 1501.4 227.99 1505 227.6 C1508.6 227.21 1516.67 227.17 1520 227.3 C1523.33 227.43 1526 227.44 1530 228.6 C1534 229.76 1543.6 232.97 1550 236 C1556.4 239.03 1574.27 249.26 1578 251.3 " fill="none" stroke="#49a84c" stroke-width="1.55" stroke-linejoin="round" stroke-linecap="round"/>

<!-- price line -->
<line x1="1580" y1="303.5" x2="1647" y2="303.5" stroke="#12a28b" stroke-width="1.3" stroke-dasharray="8 7.1"/>

<!-- hi/lo markers -->
<line x1="1346.7" y1="185.2" x2="1376.4" y2="185.2" stroke="#55585f" stroke-width="1.2"/>
<circle cx="1379.4" cy="185.3" r="3.1" fill="#ffffff"/>
<text x="1386.3" y="190.7" font-size="14" fill="none" stroke="#131720" stroke-width="3" stroke-linejoin="round" textLength="49.1" lengthAdjust="spacingAndGlyphs">358.00</text>
<text x="1386.3" y="190.7" font-size="14" fill="#ffffff" stroke="#ffffff" stroke-width="0.3" textLength="49.1" lengthAdjust="spacingAndGlyphs">358.00</text>
<line x1="434" y1="804.6" x2="464.2" y2="804.6" stroke="#3a3d45" stroke-width="1.2"/>
<circle cx="467.2" cy="804.6" r="3.1" fill="#ffffff"/>
<text x="474.2" y="810.7" font-size="14" fill="none" stroke="#131720" stroke-width="3" stroke-linejoin="round" textLength="48.3" lengthAdjust="spacingAndGlyphs">253.05</text>
<text x="474.2" y="810.7" font-size="14" fill="#ffffff" stroke="#ffffff" stroke-width="0.3" textLength="48.3" lengthAdjust="spacingAndGlyphs">253.05</text>

<!-- price axis labels -->
<g font-size="17.8" fill="#f0f1f4" stroke="#f0f1f4" stroke-width="0.4">
<text x="1652.6" y="180.8" textLength="32.6" lengthAdjust="spacingAndGlyphs">360</text>
<text x="1652.6" y="269.4" textLength="32.6" lengthAdjust="spacingAndGlyphs">345</text>
<text x="1652.6" y="357.9" textLength="32.6" lengthAdjust="spacingAndGlyphs">330</text>
<text x="1652.6" y="446.5" textLength="32.6" lengthAdjust="spacingAndGlyphs">315</text>
<text x="1652.6" y="535.0" textLength="32.6" lengthAdjust="spacingAndGlyphs">300</text>
<text x="1652.6" y="623.6" textLength="32.6" lengthAdjust="spacingAndGlyphs">285</text>
<text x="1652.6" y="712.1" textLength="32.6" lengthAdjust="spacingAndGlyphs">270</text>
<text x="1652.6" y="800.7" textLength="32.6" lengthAdjust="spacingAndGlyphs">255</text>
</g>
<g fill="#2f333d">
<rect x="1647" y="173.1" width="4" height="1.1"/><rect x="1647" y="261.7" width="4" height="1.1"/><rect x="1647" y="350.2" width="4" height="1.1"/><rect x="1647" y="438.8" width="4" height="1.1"/><rect x="1647" y="527.3" width="4" height="1.1"/><rect x="1647" y="615.9" width="4" height="1.1"/><rect x="1647" y="704.4" width="4" height="1.1"/><rect x="1647" y="793.0" width="4" height="1.1"/>
</g>
<!-- current price box -->
<path d="M1651 284.9 H1712 V321 H1651 Q1646.6 321 1646.6 316.6 V289.3 Q1646.6 284.9 1651 284.9 Z" fill="#0f9a82"/>
<text x="1649.6" y="301.6" font-size="16.4" font-weight="700" fill="#ffffff" textLength="50.6" lengthAdjust="spacingAndGlyphs">338.05</text>
<text x="1649.6" y="316.6" font-size="14" fill="#ffffff" textLength="38.6" lengthAdjust="spacingAndGlyphs">03:59</text>

<!-- time labels -->
<g font-size="17.8" fill="#f0f1f4" stroke="#f0f1f4" stroke-width="0.4" text-anchor="middle">
<text x="318.5" y="902.9" textLength="49" lengthAdjust="spacingAndGlyphs">10:30</text>
<text x="633.5" y="902.9" textLength="48.6" lengthAdjust="spacingAndGlyphs">14:35</text>
<text x="948.5" y="902.9" textLength="49" lengthAdjust="spacingAndGlyphs">12:25</text>
<text x="1263.5" y="902.9" textLength="48.6" lengthAdjust="spacingAndGlyphs">10:15</text>
<text x="1578.5" y="902.9" textLength="49" lengthAdjust="spacingAndGlyphs">14:20</text>
</g>
<g fill="#3a3e49">
<rect x="317.6" y="879" width="1.1" height="3.6"/><rect x="632.6" y="879" width="1.1" height="3.6"/><rect x="947.6" y="879" width="1.1" height="3.6"/><rect x="1262.6" y="879" width="1.1" height="3.6"/><rect x="1577.6" y="879" width="1.1" height="3.6"/>
</g>
</svg>
</body></html>
